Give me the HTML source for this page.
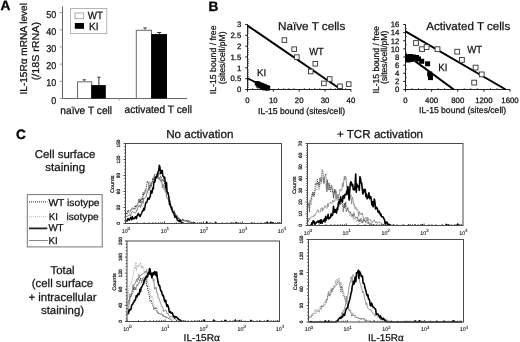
<!DOCTYPE html>
<html><head><meta charset="utf-8"><style>
html,body{margin:0;padding:0;background:#fff;}
svg{display:block;will-change:transform;}
</style></head><body>
<svg width="520" height="342" viewBox="0 0 520 342" font-family="'Liberation Sans', sans-serif" text-rendering="geometricPrecision">
<rect width="520" height="342" fill="#fff"/>
<text x="0.60" y="10.40" font-size="13.6" font-weight="bold" fill="#000" stroke="#000" stroke-width="0.35" >A</text>
<text x="26.90" y="48.80" font-size="10" text-anchor="middle" textLength="91.4" lengthAdjust="spacingAndGlyphs" fill="#111" transform="rotate(-90 26.90 48.80)" stroke="#111" stroke-width="0.25" >IL-15R&#945; mRNA level</text>
<text x="38.90" y="51.10" font-size="10" text-anchor="middle" textLength="58.4" lengthAdjust="spacingAndGlyphs" fill="#111" transform="rotate(-90 38.90 51.10)" stroke="#111" stroke-width="0.25" >(/18S rRNA)</text>
<line x1="62.50" y1="6.30" x2="62.50" y2="98.50" stroke="#666" stroke-width="1" />
<line x1="62.00" y1="98.50" x2="187.20" y2="98.50" stroke="#666" stroke-width="1" />
<line x1="59.70" y1="98.50" x2="62.50" y2="98.50" stroke="#999" stroke-width="1" />
<text x="56.30" y="103.60" font-size="9.9" text-anchor="end" textLength="5.0" lengthAdjust="spacingAndGlyphs" fill="#111" stroke="#111" stroke-width="0.25" >0</text>
<line x1="59.70" y1="81.32" x2="62.50" y2="81.32" stroke="#999" stroke-width="1" />
<text x="56.30" y="86.42" font-size="9.9" text-anchor="end" textLength="10.0" lengthAdjust="spacingAndGlyphs" fill="#111" stroke="#111" stroke-width="0.25" >10</text>
<line x1="59.70" y1="64.14" x2="62.50" y2="64.14" stroke="#999" stroke-width="1" />
<text x="56.30" y="69.24" font-size="9.9" text-anchor="end" textLength="10.0" lengthAdjust="spacingAndGlyphs" fill="#111" stroke="#111" stroke-width="0.25" >20</text>
<line x1="59.70" y1="46.96" x2="62.50" y2="46.96" stroke="#999" stroke-width="1" />
<text x="56.30" y="52.06" font-size="9.9" text-anchor="end" textLength="10.0" lengthAdjust="spacingAndGlyphs" fill="#111" stroke="#111" stroke-width="0.25" >30</text>
<line x1="59.70" y1="29.78" x2="62.50" y2="29.78" stroke="#999" stroke-width="1" />
<text x="56.30" y="34.88" font-size="9.9" text-anchor="end" textLength="10.0" lengthAdjust="spacingAndGlyphs" fill="#111" stroke="#111" stroke-width="0.25" >40</text>
<line x1="59.70" y1="12.60" x2="62.50" y2="12.60" stroke="#999" stroke-width="1" />
<text x="56.30" y="17.70" font-size="9.9" text-anchor="end" textLength="10.0" lengthAdjust="spacingAndGlyphs" fill="#111" stroke="#111" stroke-width="0.25" >50</text>
<line x1="119.20" y1="98.50" x2="119.20" y2="100.50" stroke="#aaa" stroke-width="1" />
<line x1="84.30" y1="79.77" x2="84.30" y2="81.32" stroke="#444" stroke-width="1" />
<line x1="82.60" y1="79.77" x2="86.00" y2="79.77" stroke="#444" stroke-width="1" />
<line x1="98.90" y1="77.20" x2="98.90" y2="85.10" stroke="#333" stroke-width="1" />
<line x1="97.30" y1="77.20" x2="100.50" y2="77.20" stroke="#333" stroke-width="1" />
<line x1="145.00" y1="27.89" x2="145.00" y2="29.78" stroke="#444" stroke-width="1" />
<line x1="143.30" y1="27.89" x2="146.70" y2="27.89" stroke="#444" stroke-width="1" />
<line x1="159.30" y1="32.53" x2="159.30" y2="34.25" stroke="#333" stroke-width="1" />
<line x1="157.10" y1="32.53" x2="161.40" y2="32.53" stroke="#333" stroke-width="1" />
<rect x="77.50" y="81.82" width="14.20" height="16.68" fill="#fff" stroke="#6a6a6a" stroke-width="1" />
<rect x="91.20" y="85.10" width="14.60" height="13.40" fill="#000" stroke="none" stroke-width="1" />
<rect x="136.30" y="30.28" width="15.20" height="68.22" fill="#fff" stroke="#6a6a6a" stroke-width="1" />
<rect x="151.20" y="34.08" width="15.80" height="64.42" fill="#000" stroke="none" stroke-width="1" />
<rect x="70.50" y="8.50" width="36.30" height="25.00" fill="none" stroke="#b5b5b5" stroke-width="1" />
<rect x="75.00" y="13.00" width="8.60" height="5.60" fill="#fff" stroke="#aaa" stroke-width="1" />
<rect x="74.80" y="23.00" width="9.20" height="5.80" fill="#000" stroke="none" stroke-width="1" />
<text x="87.80" y="19.20" font-size="10.5" textLength="15.2" lengthAdjust="spacingAndGlyphs" fill="#111" stroke="#111" stroke-width="0.25" >WT</text>
<text x="89.00" y="29.50" font-size="10.4" textLength="9.6" lengthAdjust="spacingAndGlyphs" fill="#111" stroke="#111" stroke-width="0.25" >KI</text>
<text x="60.30" y="113.50" font-size="10.6" textLength="51.8" lengthAdjust="spacingAndGlyphs" fill="#111" stroke="#111" stroke-width="0.25" >na&#239;ve T cell</text>
<text x="124.50" y="113.00" font-size="10.6" textLength="67.4" lengthAdjust="spacingAndGlyphs" fill="#111" stroke="#111" stroke-width="0.25" >activated T cell</text>
<text x="208.60" y="10.50" font-size="13.6" font-weight="bold" fill="#000" stroke="#000" stroke-width="0.35" >B</text>
<line x1="247.50" y1="24.10" x2="247.50" y2="90.00" stroke="#222" stroke-width="1" />
<line x1="247.50" y1="89.50" x2="351.20" y2="89.50" stroke="#222" stroke-width="1" />
<line x1="245.20" y1="89.50" x2="247.50" y2="89.50" stroke="#222" stroke-width="1" />
<text x="241.30" y="92.30" font-size="7.8" text-anchor="end" fill="#111" stroke="#111" stroke-width="0.25" >0</text>
<line x1="245.20" y1="78.67" x2="247.50" y2="78.67" stroke="#222" stroke-width="1" />
<text x="241.30" y="81.47" font-size="7.8" text-anchor="end" fill="#111" stroke="#111" stroke-width="0.25" >0.5</text>
<line x1="245.20" y1="67.83" x2="247.50" y2="67.83" stroke="#222" stroke-width="1" />
<text x="241.30" y="70.63" font-size="7.8" text-anchor="end" fill="#111" stroke="#111" stroke-width="0.25" >1</text>
<line x1="245.20" y1="57.00" x2="247.50" y2="57.00" stroke="#222" stroke-width="1" />
<text x="241.30" y="59.80" font-size="7.8" text-anchor="end" fill="#111" stroke="#111" stroke-width="0.25" >1.5</text>
<line x1="245.20" y1="46.17" x2="247.50" y2="46.17" stroke="#222" stroke-width="1" />
<text x="241.30" y="48.97" font-size="7.8" text-anchor="end" fill="#111" stroke="#111" stroke-width="0.25" >2</text>
<line x1="245.20" y1="35.33" x2="247.50" y2="35.33" stroke="#222" stroke-width="1" />
<text x="241.30" y="38.13" font-size="7.8" text-anchor="end" fill="#111" stroke="#111" stroke-width="0.25" >2.5</text>
<line x1="245.20" y1="24.50" x2="247.50" y2="24.50" stroke="#222" stroke-width="1" />
<text x="241.30" y="27.30" font-size="7.8" text-anchor="end" fill="#111" stroke="#111" stroke-width="0.25" >3</text>
<line x1="247.50" y1="87.33" x2="249.00" y2="87.33" stroke="#444" stroke-width="0.8" />
<line x1="247.50" y1="85.17" x2="249.00" y2="85.17" stroke="#444" stroke-width="0.8" />
<line x1="247.50" y1="83.00" x2="249.00" y2="83.00" stroke="#444" stroke-width="0.8" />
<line x1="247.50" y1="80.83" x2="249.00" y2="80.83" stroke="#444" stroke-width="0.8" />
<line x1="247.50" y1="76.50" x2="249.00" y2="76.50" stroke="#444" stroke-width="0.8" />
<line x1="247.50" y1="74.33" x2="249.00" y2="74.33" stroke="#444" stroke-width="0.8" />
<line x1="247.50" y1="72.17" x2="249.00" y2="72.17" stroke="#444" stroke-width="0.8" />
<line x1="247.50" y1="70.00" x2="249.00" y2="70.00" stroke="#444" stroke-width="0.8" />
<line x1="247.50" y1="65.67" x2="249.00" y2="65.67" stroke="#444" stroke-width="0.8" />
<line x1="247.50" y1="63.50" x2="249.00" y2="63.50" stroke="#444" stroke-width="0.8" />
<line x1="247.50" y1="61.33" x2="249.00" y2="61.33" stroke="#444" stroke-width="0.8" />
<line x1="247.50" y1="59.17" x2="249.00" y2="59.17" stroke="#444" stroke-width="0.8" />
<line x1="247.50" y1="54.83" x2="249.00" y2="54.83" stroke="#444" stroke-width="0.8" />
<line x1="247.50" y1="52.67" x2="249.00" y2="52.67" stroke="#444" stroke-width="0.8" />
<line x1="247.50" y1="50.50" x2="249.00" y2="50.50" stroke="#444" stroke-width="0.8" />
<line x1="247.50" y1="48.33" x2="249.00" y2="48.33" stroke="#444" stroke-width="0.8" />
<line x1="247.50" y1="44.00" x2="249.00" y2="44.00" stroke="#444" stroke-width="0.8" />
<line x1="247.50" y1="41.83" x2="249.00" y2="41.83" stroke="#444" stroke-width="0.8" />
<line x1="247.50" y1="39.67" x2="249.00" y2="39.67" stroke="#444" stroke-width="0.8" />
<line x1="247.50" y1="37.50" x2="249.00" y2="37.50" stroke="#444" stroke-width="0.8" />
<line x1="247.50" y1="33.17" x2="249.00" y2="33.17" stroke="#444" stroke-width="0.8" />
<line x1="247.50" y1="31.00" x2="249.00" y2="31.00" stroke="#444" stroke-width="0.8" />
<line x1="247.50" y1="28.83" x2="249.00" y2="28.83" stroke="#444" stroke-width="0.8" />
<line x1="247.50" y1="26.67" x2="249.00" y2="26.67" stroke="#444" stroke-width="0.8" />
<line x1="247.50" y1="89.50" x2="247.50" y2="91.70" stroke="#222" stroke-width="1" />
<text x="247.50" y="102.50" font-size="7.8" text-anchor="middle" fill="#111" stroke="#111" stroke-width="0.25" >0</text>
<line x1="273.35" y1="89.50" x2="273.35" y2="91.70" stroke="#222" stroke-width="1" />
<text x="273.35" y="102.50" font-size="7.8" text-anchor="middle" fill="#111" stroke="#111" stroke-width="0.25" >10</text>
<line x1="299.20" y1="89.50" x2="299.20" y2="91.70" stroke="#222" stroke-width="1" />
<text x="299.20" y="102.50" font-size="7.8" text-anchor="middle" fill="#111" stroke="#111" stroke-width="0.25" >20</text>
<line x1="325.05" y1="89.50" x2="325.05" y2="91.70" stroke="#222" stroke-width="1" />
<text x="325.05" y="102.50" font-size="7.8" text-anchor="middle" fill="#111" stroke="#111" stroke-width="0.25" >30</text>
<line x1="350.90" y1="89.50" x2="350.90" y2="91.70" stroke="#222" stroke-width="1" />
<text x="350.90" y="102.50" font-size="7.8" text-anchor="middle" fill="#111" stroke="#111" stroke-width="0.25" >40</text>
<line x1="252.67" y1="88.00" x2="252.67" y2="89.50" stroke="#444" stroke-width="0.8" />
<line x1="257.84" y1="88.00" x2="257.84" y2="89.50" stroke="#444" stroke-width="0.8" />
<line x1="263.01" y1="88.00" x2="263.01" y2="89.50" stroke="#444" stroke-width="0.8" />
<line x1="268.18" y1="88.00" x2="268.18" y2="89.50" stroke="#444" stroke-width="0.8" />
<line x1="278.52" y1="88.00" x2="278.52" y2="89.50" stroke="#444" stroke-width="0.8" />
<line x1="283.69" y1="88.00" x2="283.69" y2="89.50" stroke="#444" stroke-width="0.8" />
<line x1="288.86" y1="88.00" x2="288.86" y2="89.50" stroke="#444" stroke-width="0.8" />
<line x1="294.03" y1="88.00" x2="294.03" y2="89.50" stroke="#444" stroke-width="0.8" />
<line x1="304.37" y1="88.00" x2="304.37" y2="89.50" stroke="#444" stroke-width="0.8" />
<line x1="309.54" y1="88.00" x2="309.54" y2="89.50" stroke="#444" stroke-width="0.8" />
<line x1="314.71" y1="88.00" x2="314.71" y2="89.50" stroke="#444" stroke-width="0.8" />
<line x1="319.88" y1="88.00" x2="319.88" y2="89.50" stroke="#444" stroke-width="0.8" />
<line x1="330.22" y1="88.00" x2="330.22" y2="89.50" stroke="#444" stroke-width="0.8" />
<line x1="335.39" y1="88.00" x2="335.39" y2="89.50" stroke="#444" stroke-width="0.8" />
<line x1="340.56" y1="88.00" x2="340.56" y2="89.50" stroke="#444" stroke-width="0.8" />
<line x1="345.73" y1="88.00" x2="345.73" y2="89.50" stroke="#444" stroke-width="0.8" />
<text x="216.20" y="59.85" font-size="8.7" text-anchor="middle" textLength="68.7" lengthAdjust="spacingAndGlyphs" fill="#111" transform="rotate(-90 216.20 59.85)" stroke="#111" stroke-width="0.25" >IL-15 bound / free</text>
<text x="225.00" y="57.80" font-size="8.7" text-anchor="middle" textLength="52.8" lengthAdjust="spacingAndGlyphs" fill="#111" transform="rotate(-90 225.00 57.80)" stroke="#111" stroke-width="0.25" >(sites/cell/pM)</text>
<text x="258.00" y="113.50" font-size="8.7" textLength="87.1" lengthAdjust="spacingAndGlyphs" fill="#111" stroke="#111" stroke-width="0.25" >IL-15 bound (sites/cell)</text>
<text x="278.00" y="29.80" font-size="11.4" textLength="67.3" lengthAdjust="spacingAndGlyphs" fill="#111" stroke="#111" stroke-width="0.25" >Na&#239;ve T cells</text>
<text x="309.20" y="55.00" font-size="10.2" textLength="14.4" lengthAdjust="spacingAndGlyphs" fill="#111" stroke="#111" stroke-width="0.25" >WT</text>
<text x="256.90" y="76.20" font-size="9.8" textLength="9.2" lengthAdjust="spacingAndGlyphs" fill="#111" stroke="#111" stroke-width="0.25" >KI</text>
<line x1="247.50" y1="25.60" x2="341.00" y2="89.50" stroke="#000" stroke-width="2" />
<line x1="247.50" y1="78.30" x2="270.00" y2="89.30" stroke="#000" stroke-width="1.8" />
<rect x="282.10" y="37.80" width="4.60" height="4.60" fill="#fff" stroke="#333" stroke-width="0.9" />
<rect x="291.90" y="46.90" width="4.60" height="4.60" fill="#fff" stroke="#333" stroke-width="0.9" />
<rect x="294.50" y="54.80" width="4.60" height="4.60" fill="#fff" stroke="#333" stroke-width="0.9" />
<rect x="313.00" y="61.50" width="4.60" height="4.60" fill="#fff" stroke="#333" stroke-width="0.9" />
<rect x="308.40" y="69.20" width="4.60" height="4.60" fill="#fff" stroke="#333" stroke-width="0.9" />
<rect x="327.40" y="76.70" width="4.60" height="4.60" fill="#fff" stroke="#333" stroke-width="0.9" />
<rect x="321.60" y="81.10" width="4.60" height="4.60" fill="#fff" stroke="#333" stroke-width="0.9" />
<rect x="337.70" y="84.00" width="4.60" height="4.60" fill="#fff" stroke="#333" stroke-width="0.9" />
<rect x="346.40" y="81.80" width="4.60" height="4.60" fill="#fff" stroke="#333" stroke-width="0.9" />
<rect x="254.80" y="81.10" width="4.40" height="4.40" fill="#000" stroke="none" stroke-width="1" />
<rect x="255.80" y="81.40" width="4.40" height="4.40" fill="#000" stroke="none" stroke-width="1" />
<rect x="257.30" y="82.10" width="4.40" height="4.40" fill="#000" stroke="none" stroke-width="1" />
<rect x="259.30" y="82.80" width="4.40" height="4.40" fill="#000" stroke="none" stroke-width="1" />
<rect x="261.10" y="83.60" width="4.40" height="4.40" fill="#000" stroke="none" stroke-width="1" />
<rect x="262.80" y="84.30" width="4.40" height="4.40" fill="#000" stroke="none" stroke-width="1" />
<rect x="264.30" y="85.10" width="4.40" height="4.40" fill="#000" stroke="none" stroke-width="1" />
<rect x="265.80" y="85.60" width="4.40" height="4.40" fill="#000" stroke="none" stroke-width="1" />
<rect x="259.80" y="85.30" width="4.40" height="4.40" fill="#000" stroke="none" stroke-width="1" />
<rect x="262.30" y="86.00" width="4.40" height="4.40" fill="#000" stroke="none" stroke-width="1" />
<rect x="265.30" y="86.30" width="4.40" height="4.40" fill="#000" stroke="none" stroke-width="1" />
<rect x="258.30" y="83.80" width="4.40" height="4.40" fill="#000" stroke="none" stroke-width="1" />
<rect x="256.30" y="83.30" width="4.40" height="4.40" fill="#000" stroke="none" stroke-width="1" />
<line x1="405.50" y1="24.30" x2="405.50" y2="90.00" stroke="#222" stroke-width="1" />
<line x1="405.50" y1="89.50" x2="510.20" y2="89.50" stroke="#222" stroke-width="1" />
<line x1="403.20" y1="89.50" x2="405.50" y2="89.50" stroke="#222" stroke-width="1" />
<text x="399.40" y="92.30" font-size="7.8" text-anchor="end" fill="#111" stroke="#111" stroke-width="0.25" >0</text>
<line x1="403.20" y1="81.38" x2="405.50" y2="81.38" stroke="#222" stroke-width="1" />
<text x="399.40" y="84.17" font-size="7.8" text-anchor="end" fill="#111" stroke="#111" stroke-width="0.25" >2</text>
<line x1="403.20" y1="73.25" x2="405.50" y2="73.25" stroke="#222" stroke-width="1" />
<text x="399.40" y="76.05" font-size="7.8" text-anchor="end" fill="#111" stroke="#111" stroke-width="0.25" >4</text>
<line x1="403.20" y1="65.12" x2="405.50" y2="65.12" stroke="#222" stroke-width="1" />
<text x="399.40" y="67.92" font-size="7.8" text-anchor="end" fill="#111" stroke="#111" stroke-width="0.25" >6</text>
<line x1="403.20" y1="57.00" x2="405.50" y2="57.00" stroke="#222" stroke-width="1" />
<text x="399.40" y="59.80" font-size="7.8" text-anchor="end" fill="#111" stroke="#111" stroke-width="0.25" >8</text>
<line x1="403.20" y1="48.88" x2="405.50" y2="48.88" stroke="#222" stroke-width="1" />
<text x="399.40" y="51.67" font-size="7.8" text-anchor="end" fill="#111" stroke="#111" stroke-width="0.25" >10</text>
<line x1="403.20" y1="40.75" x2="405.50" y2="40.75" stroke="#222" stroke-width="1" />
<text x="399.40" y="43.55" font-size="7.8" text-anchor="end" fill="#111" stroke="#111" stroke-width="0.25" >12</text>
<line x1="403.20" y1="32.62" x2="405.50" y2="32.62" stroke="#222" stroke-width="1" />
<text x="399.40" y="35.42" font-size="7.8" text-anchor="end" fill="#111" stroke="#111" stroke-width="0.25" >14</text>
<line x1="403.20" y1="24.50" x2="405.50" y2="24.50" stroke="#222" stroke-width="1" />
<text x="399.40" y="27.30" font-size="7.8" text-anchor="end" fill="#111" stroke="#111" stroke-width="0.25" >16</text>
<line x1="405.50" y1="85.44" x2="407.00" y2="85.44" stroke="#444" stroke-width="0.8" />
<line x1="405.50" y1="77.31" x2="407.00" y2="77.31" stroke="#444" stroke-width="0.8" />
<line x1="405.50" y1="69.19" x2="407.00" y2="69.19" stroke="#444" stroke-width="0.8" />
<line x1="405.50" y1="61.06" x2="407.00" y2="61.06" stroke="#444" stroke-width="0.8" />
<line x1="405.50" y1="52.94" x2="407.00" y2="52.94" stroke="#444" stroke-width="0.8" />
<line x1="405.50" y1="44.81" x2="407.00" y2="44.81" stroke="#444" stroke-width="0.8" />
<line x1="405.50" y1="36.69" x2="407.00" y2="36.69" stroke="#444" stroke-width="0.8" />
<line x1="405.50" y1="28.56" x2="407.00" y2="28.56" stroke="#444" stroke-width="0.8" />
<line x1="405.50" y1="89.50" x2="405.50" y2="91.70" stroke="#222" stroke-width="1" />
<text x="405.50" y="102.50" font-size="7.8" text-anchor="middle" fill="#111" stroke="#111" stroke-width="0.25" >0</text>
<line x1="431.62" y1="89.50" x2="431.62" y2="91.70" stroke="#222" stroke-width="1" />
<text x="431.62" y="102.50" font-size="7.8" text-anchor="middle" fill="#111" stroke="#111" stroke-width="0.25" >400</text>
<line x1="457.75" y1="89.50" x2="457.75" y2="91.70" stroke="#222" stroke-width="1" />
<text x="457.75" y="102.50" font-size="7.8" text-anchor="middle" fill="#111" stroke="#111" stroke-width="0.25" >800</text>
<line x1="483.88" y1="89.50" x2="483.88" y2="91.70" stroke="#222" stroke-width="1" />
<text x="483.88" y="102.50" font-size="7.8" text-anchor="middle" fill="#111" stroke="#111" stroke-width="0.25" >1200</text>
<line x1="510.00" y1="89.50" x2="510.00" y2="91.70" stroke="#222" stroke-width="1" />
<text x="510.00" y="102.50" font-size="7.8" text-anchor="middle" fill="#111" stroke="#111" stroke-width="0.25" >1600</text>
<line x1="412.03" y1="88.00" x2="412.03" y2="89.50" stroke="#444" stroke-width="0.8" />
<line x1="418.56" y1="88.00" x2="418.56" y2="89.50" stroke="#444" stroke-width="0.8" />
<line x1="425.09" y1="88.00" x2="425.09" y2="89.50" stroke="#444" stroke-width="0.8" />
<line x1="438.16" y1="88.00" x2="438.16" y2="89.50" stroke="#444" stroke-width="0.8" />
<line x1="444.69" y1="88.00" x2="444.69" y2="89.50" stroke="#444" stroke-width="0.8" />
<line x1="451.22" y1="88.00" x2="451.22" y2="89.50" stroke="#444" stroke-width="0.8" />
<line x1="464.28" y1="88.00" x2="464.28" y2="89.50" stroke="#444" stroke-width="0.8" />
<line x1="470.81" y1="88.00" x2="470.81" y2="89.50" stroke="#444" stroke-width="0.8" />
<line x1="477.34" y1="88.00" x2="477.34" y2="89.50" stroke="#444" stroke-width="0.8" />
<line x1="490.41" y1="88.00" x2="490.41" y2="89.50" stroke="#444" stroke-width="0.8" />
<line x1="496.94" y1="88.00" x2="496.94" y2="89.50" stroke="#444" stroke-width="0.8" />
<line x1="503.47" y1="88.00" x2="503.47" y2="89.50" stroke="#444" stroke-width="0.8" />
<text x="378.70" y="59.75" font-size="8.7" text-anchor="middle" textLength="67.3" lengthAdjust="spacingAndGlyphs" fill="#111" transform="rotate(-90 378.70 59.75)" stroke="#111" stroke-width="0.25" >IL-15 bound / free</text>
<text x="387.20" y="57.25" font-size="8.7" text-anchor="middle" textLength="53.5" lengthAdjust="spacingAndGlyphs" fill="#111" transform="rotate(-90 387.20 57.25)" stroke="#111" stroke-width="0.25" >(sites/cell/pM)</text>
<text x="419.10" y="113.30" font-size="8.7" textLength="87.0" lengthAdjust="spacingAndGlyphs" fill="#111" stroke="#111" stroke-width="0.25" >IL-15 bound (sites/cell)</text>
<text x="426.20" y="30.10" font-size="11.4" textLength="84.0" lengthAdjust="spacingAndGlyphs" fill="#111" stroke="#111" stroke-width="0.25" >Activated T cells</text>
<text x="467.20" y="52.70" font-size="10.2" textLength="15.0" lengthAdjust="spacingAndGlyphs" fill="#111" stroke="#111" stroke-width="0.25" >WT</text>
<text x="438.30" y="71.20" font-size="10.4" textLength="9.2" lengthAdjust="spacingAndGlyphs" fill="#111" stroke="#111" stroke-width="0.25" >KI</text>
<line x1="405.50" y1="31.40" x2="505.70" y2="89.50" stroke="#000" stroke-width="2" />
<line x1="405.50" y1="54.10" x2="453.80" y2="89.50" stroke="#000" stroke-width="2" />
<rect x="413.60" y="40.60" width="4.80" height="4.80" fill="#fff" stroke="#333" stroke-width="0.9" />
<rect x="419.70" y="46.80" width="4.80" height="4.80" fill="#fff" stroke="#333" stroke-width="0.9" />
<rect x="424.20" y="44.70" width="4.80" height="4.80" fill="#fff" stroke="#333" stroke-width="0.9" />
<rect x="435.10" y="46.80" width="4.80" height="4.80" fill="#fff" stroke="#333" stroke-width="0.9" />
<rect x="454.80" y="49.30" width="4.80" height="4.80" fill="#fff" stroke="#333" stroke-width="0.9" />
<rect x="459.50" y="57.50" width="4.80" height="4.80" fill="#fff" stroke="#333" stroke-width="0.9" />
<rect x="473.20" y="65.20" width="4.80" height="4.80" fill="#fff" stroke="#333" stroke-width="0.9" />
<rect x="479.30" y="72.00" width="4.80" height="4.80" fill="#fff" stroke="#333" stroke-width="0.9" />
<rect x="471.80" y="80.20" width="4.80" height="4.80" fill="#fff" stroke="#333" stroke-width="0.9" />
<rect x="405.00" y="55.00" width="5.00" height="5.00" fill="#000" stroke="none" stroke-width="1" />
<rect x="408.00" y="54.00" width="5.00" height="5.00" fill="#000" stroke="none" stroke-width="1" />
<rect x="411.00" y="54.50" width="5.00" height="5.00" fill="#000" stroke="none" stroke-width="1" />
<rect x="414.00" y="55.00" width="5.00" height="5.00" fill="#000" stroke="none" stroke-width="1" />
<rect x="405.50" y="57.50" width="5.00" height="5.00" fill="#000" stroke="none" stroke-width="1" />
<rect x="416.00" y="56.50" width="5.00" height="5.00" fill="#000" stroke="none" stroke-width="1" />
<rect x="419.20" y="58.80" width="5.00" height="5.00" fill="#000" stroke="none" stroke-width="1" />
<rect x="425.10" y="61.30" width="5.00" height="5.00" fill="#000" stroke="none" stroke-width="1" />
<rect x="427.20" y="71.50" width="5.00" height="5.00" fill="#000" stroke="none" stroke-width="1" />
<rect x="428.00" y="75.10" width="5.00" height="5.00" fill="#000" stroke="none" stroke-width="1" />
<rect x="408.50" y="57.00" width="5.00" height="5.00" fill="#000" stroke="none" stroke-width="1" />
<text x="15.90" y="138.50" font-size="13.6" font-weight="bold" fill="#000" stroke="#000" stroke-width="0.35" >C</text>
<text x="65.00" y="157.50" font-size="11.3" text-anchor="middle" textLength="60.6" lengthAdjust="spacingAndGlyphs" fill="#111" stroke="#111" stroke-width="0.25" >Cell surface</text>
<text x="65.20" y="170.80" font-size="11.3" text-anchor="middle" textLength="39.8" lengthAdjust="spacingAndGlyphs" fill="#111" stroke="#111" stroke-width="0.25" >staining</text>
<rect x="27.30" y="194.60" width="74.90" height="52.30" fill="none" stroke="#777" stroke-width="1" />
<line x1="29.00" y1="201.90" x2="47.30" y2="201.90" stroke="#222" stroke-width="1" stroke-dasharray="1 1"/>
<line x1="29.00" y1="216.70" x2="47.30" y2="216.70" stroke="#bbb" stroke-width="1" stroke-dasharray="1 1"/>
<line x1="29.00" y1="228.40" x2="47.30" y2="228.40" stroke="#222" stroke-width="1.8" />
<line x1="29.00" y1="240.50" x2="47.80" y2="240.50" stroke="#888" stroke-width="1" />
<text x="48.40" y="205.50" font-size="10" textLength="51.2" lengthAdjust="spacingAndGlyphs" fill="#111" stroke="#111" stroke-width="0.25" >WT isotype</text>
<text x="48.80" y="219.90" font-size="10" textLength="9.2" lengthAdjust="spacingAndGlyphs" fill="#111" stroke="#111" stroke-width="0.25" >KI</text>
<text x="66.50" y="219.90" font-size="10" textLength="32.2" lengthAdjust="spacingAndGlyphs" fill="#111" stroke="#111" stroke-width="0.25" >isotype</text>
<text x="48.40" y="231.40" font-size="10" textLength="15.2" lengthAdjust="spacingAndGlyphs" fill="#111" stroke="#111" stroke-width="0.25" >WT</text>
<text x="48.40" y="243.90" font-size="10" textLength="9.2" lengthAdjust="spacingAndGlyphs" fill="#111" stroke="#111" stroke-width="0.25" >KI</text>
<text x="62.50" y="273.60" font-size="11.4" text-anchor="middle" fill="#111" stroke="#111" stroke-width="0.25" >Total</text>
<text x="62.50" y="287.00" font-size="11.4" text-anchor="middle" fill="#111" stroke="#111" stroke-width="0.25" >(cell surface</text>
<text x="62.50" y="300.90" font-size="11.4" text-anchor="middle" fill="#111" stroke="#111" stroke-width="0.25" >+ intracellular</text>
<text x="62.50" y="314.20" font-size="11.4" text-anchor="middle" fill="#111" stroke="#111" stroke-width="0.25" >staining)</text>
<text x="166.20" y="138.20" font-size="11.5" textLength="67.2" lengthAdjust="spacingAndGlyphs" fill="#111" stroke="#111" stroke-width="0.25" >No activation</text>
<text x="336.90" y="137.70" font-size="11.5" textLength="86.2" lengthAdjust="spacingAndGlyphs" fill="#111" stroke="#111" stroke-width="0.25" >+ TCR activation</text>
<text x="183.60" y="340.60" font-size="9.8" textLength="36.4" lengthAdjust="spacingAndGlyphs" fill="#111" stroke="#111" stroke-width="0.25" >IL-15R&#945;</text>
<text x="368.10" y="340.60" font-size="9.8" textLength="35.6" lengthAdjust="spacingAndGlyphs" fill="#111" stroke="#111" stroke-width="0.25" >IL-15R&#945;</text>
<defs><clipPath id="c0"><rect x="125.5" y="143.5" width="156.0" height="80.5"/></clipPath><clipPath id="c1"><rect x="307.5" y="143.5" width="155.5" height="82.5"/></clipPath><clipPath id="c2"><rect x="127.0" y="241.0" width="152.5" height="81.0"/></clipPath><clipPath id="c3"><rect x="308.5" y="239.5" width="155.0" height="83.0"/></clipPath></defs>
<path d="M126.3,212.8 L126.9,214.2 L127.5,214.3 L128.1,212.0 L128.7,210.3 L129.3,211.2 L129.9,211.6 L130.5,212.2 L131.1,209.1 L131.7,208.4 L132.3,210.1 L132.9,209.1 L133.5,209.8 L134.1,208.6 L134.7,206.9 L135.3,206.6 L135.9,210.0 L136.5,205.4 L137.1,203.6 L137.7,202.0 L138.3,202.7 L138.9,201.9 L139.5,200.6 L140.1,200.9 L140.7,201.0 L141.3,200.8 L141.9,200.3 L142.5,197.4 L143.1,192.4 L143.7,195.5 L144.3,190.8 L144.9,192.7 L145.5,190.1 L146.1,192.0 L146.7,189.2 L147.3,189.5 L147.9,193.9 L148.5,185.8 L149.1,186.4 L149.7,181.3 L150.3,183.3 L150.9,184.7 L151.5,182.0 L152.1,181.6 L152.7,179.7 L153.3,176.2 L153.9,179.3 L154.5,176.1 L155.1,181.7 L155.7,175.9 L156.3,178.1 L156.9,176.1 L157.5,178.2 L158.1,174.9 L158.7,179.2 L159.3,177.4 L159.9,180.8 L160.5,179.7 L161.1,179.9 L161.7,179.8 L162.3,185.1 L162.9,186.4 L163.5,189.9 L164.1,186.3 L164.7,189.0 L165.3,190.8 L165.9,193.0 L166.5,195.7 L167.1,197.9 L167.7,197.9 L168.3,197.5 L168.9,199.6 L169.5,203.0 L170.1,206.6 L170.7,207.9 L171.3,209.6 L171.9,210.0 L172.5,210.1 L173.1,210.4 L173.7,212.6 L174.3,215.2 L174.9,214.5 L175.5,215.1 L176.1,217.8 L176.7,216.4 L177.3,217.5 L177.9,218.1 L178.5,217.4 L179.1,220.8 L179.7,220.9 L180.3,220.4 L180.9,220.9 L181.5,220.6 L182.1,220.0 L182.7,221.2 L183.3,221.0 L183.9,220.3 L184.5,221.2 L185.1,219.9 L185.7,220.5 L186.3,221.9 L186.9,220.7 L187.5,221.3 L188.1,220.4 L188.7,222.1 L189.3,221.4 L189.9,223.0 L190.5,222.4 L191.1,222.3 L191.7,223.1 L192.3,222.9 L192.9,223.2 L193.5,222.5 L194.1,222.9 L194.7,222.4 L195.3,223.3 L195.9,223.5 L196.5,223.5 L197.1,223.6 L197.7,223.7 L198.3,223.7 L198.9,223.7 L199.5,223.8 L200.1,223.8 L200.7,223.8 L201.3,223.8 L201.9,223.8 L202.5,223.8 L203.1,223.7 L203.7,223.8 L204.3,223.8 L204.9,223.7 L205.5,223.8 L206.1,223.7 L206.7,223.8 L207.3,223.7 L207.9,223.8 L208.5,223.8 L209.1,223.7 L209.7,223.7 L210.3,223.7 L210.9,223.8 L211.5,223.8 L212.1,222.5 L212.7,223.8 L213.3,223.8 L213.9,223.7 L214.5,222.8 L215.1,223.8 L215.7,223.8 L216.3,223.8 L216.9,223.8 L217.5,223.8 L218.1,223.8 L218.7,223.8 L219.3,223.8 L219.9,223.8 L220.5,223.8 L221.1,223.8 L221.7,223.7 L222.3,223.8 L222.9,223.8 L223.5,223.7 L224.1,223.8 L224.7,223.8 L225.3,223.7 L225.9,222.4 L226.5,223.8 L227.1,223.0 L227.7,223.8 L228.3,223.8 L228.9,223.8 L229.5,223.8 L230.1,223.8 L230.7,223.8 L231.3,223.7 L231.9,223.8 L232.5,222.7 L233.1,223.8 L233.7,223.8 L234.3,223.8 L234.9,223.7 L235.5,223.7 L236.1,223.8 L236.7,223.8 L237.3,223.8 L237.9,223.7 L238.5,223.7 L239.1,223.8 L239.7,223.7 L240.3,223.8 L240.9,223.8 L241.5,223.8 L242.1,223.7 L242.7,223.8 L243.3,223.8 L243.9,223.8 L244.5,223.8 L245.1,223.8 L245.7,223.8 L246.3,223.8 L246.9,223.8 L247.5,223.8 L248.1,223.8 L248.7,223.8 L249.3,223.8 L249.9,223.8 L250.5,223.7 L251.1,223.8 L251.7,223.8 L252.3,223.8 L252.9,223.8 L253.5,223.8 L254.1,223.8 L254.7,223.8 L255.3,223.7 L255.9,223.8 L256.5,223.8 L257.1,223.7 L257.7,222.0 L258.3,223.8 L258.9,223.8 L259.5,223.7 L260.1,223.8 L260.7,223.7 L261.3,223.8 L261.9,223.8 L262.5,223.8 L263.1,223.8 L263.7,223.8 L264.3,223.7 L264.9,223.7 L265.5,223.8 L266.1,223.8 L266.7,223.8 L267.3,223.8 L267.9,223.8 L268.5,223.8 L269.1,223.8 L269.7,223.8 L270.3,223.8 L270.9,223.8 L271.5,223.8 L272.1,223.8 L272.7,223.7 L273.3,223.7 L273.9,223.8 L274.5,223.7 L275.1,223.8 L275.7,223.8 L276.3,223.8 L276.9,223.8 L277.5,223.8 L278.1,223.8 L278.7,223.8 L279.3,223.0 L279.9,223.8 L280.5,223.7" fill="none" stroke="#aaa" stroke-width="0.9" stroke-linejoin="round" stroke-dasharray="1.1 0.9" clip-path="url(#c0)"/>
<path d="M126.3,215.8 L126.9,217.0 L127.5,216.2 L128.1,215.4 L128.7,216.1 L129.3,214.8 L129.9,214.2 L130.5,216.2 L131.1,213.6 L131.7,212.3 L132.3,211.5 L132.9,211.7 L133.5,212.5 L134.1,212.3 L134.7,212.4 L135.3,213.1 L135.9,212.6 L136.5,210.6 L137.1,210.5 L137.7,208.5 L138.3,205.8 L138.9,206.9 L139.5,205.3 L140.1,204.8 L140.7,207.6 L141.3,204.9 L141.9,201.8 L142.5,201.0 L143.1,203.4 L143.7,197.9 L144.3,198.7 L144.9,198.2 L145.5,197.7 L146.1,197.0 L146.7,193.6 L147.3,191.9 L147.9,190.6 L148.5,188.5 L149.1,189.5 L149.7,190.3 L150.3,185.2 L150.9,187.4 L151.5,182.9 L152.1,181.9 L152.7,181.3 L153.3,180.9 L153.9,179.2 L154.5,174.2 L155.1,182.5 L155.7,178.1 L156.3,176.5 L156.9,178.9 L157.5,175.8 L158.1,174.2 L158.7,179.2 L159.3,179.7 L159.9,177.3 L160.5,181.3 L161.1,181.3 L161.7,179.8 L162.3,187.7 L162.9,186.3 L163.5,184.5 L164.1,188.0 L164.7,188.2 L165.3,191.6 L165.9,189.6 L166.5,196.6 L167.1,198.4 L167.7,199.1 L168.3,199.3 L168.9,201.6 L169.5,202.6 L170.1,204.2 L170.7,205.3 L171.3,209.7 L171.9,210.3 L172.5,209.7 L173.1,210.5 L173.7,212.6 L174.3,210.7 L174.9,215.1 L175.5,213.5 L176.1,216.3 L176.7,217.2 L177.3,218.4 L177.9,217.1 L178.5,218.6 L179.1,219.1 L179.7,218.4 L180.3,220.8 L180.9,220.5 L181.5,220.6 L182.1,219.4 L182.7,219.4 L183.3,219.5 L183.9,221.2 L184.5,220.8 L185.1,220.6 L185.7,220.7 L186.3,220.8 L186.9,220.9 L187.5,221.6 L188.1,221.8 L188.7,222.2 L189.3,221.6 L189.9,222.1 L190.5,222.5 L191.1,222.2 L191.7,222.3 L192.3,222.7 L192.9,223.1 L193.5,222.5 L194.1,222.7 L194.7,223.0 L195.3,223.4 L195.9,223.4 L196.5,223.5 L197.1,223.6 L197.7,223.7 L198.3,223.8 L198.9,223.7 L199.5,223.8 L200.1,223.8 L200.7,223.8 L201.3,223.8 L201.9,223.8 L202.5,223.8 L203.1,223.8 L203.7,223.8 L204.3,223.8 L204.9,223.8 L205.5,223.8 L206.1,223.7 L206.7,223.8 L207.3,223.8 L207.9,223.8 L208.5,223.8 L209.1,222.7 L209.7,223.8 L210.3,223.8 L210.9,223.8 L211.5,223.7 L212.1,223.8 L212.7,223.7 L213.3,223.7 L213.9,223.8 L214.5,223.7 L215.1,223.8 L215.7,223.8 L216.3,223.8 L216.9,223.8 L217.5,223.8 L218.1,223.8 L218.7,223.8 L219.3,223.8 L219.9,223.8 L220.5,223.8 L221.1,223.8 L221.7,223.8 L222.3,223.8 L222.9,223.8 L223.5,223.8 L224.1,223.7 L224.7,223.8 L225.3,223.8 L225.9,223.8 L226.5,223.8 L227.1,223.8 L227.7,223.8 L228.3,223.8 L228.9,223.8 L229.5,223.8 L230.1,223.8 L230.7,223.8 L231.3,223.7 L231.9,223.0 L232.5,223.8 L233.1,223.8 L233.7,223.8 L234.3,223.8 L234.9,223.8 L235.5,223.8 L236.1,223.7 L236.7,223.8 L237.3,223.7 L237.9,223.7 L238.5,223.8 L239.1,223.7 L239.7,223.8 L240.3,223.7 L240.9,223.8 L241.5,223.8 L242.1,223.8 L242.7,223.8 L243.3,223.7 L243.9,223.2 L244.5,223.8 L245.1,223.8 L245.7,223.8 L246.3,223.8 L246.9,222.9 L247.5,223.8 L248.1,223.8 L248.7,223.8 L249.3,223.8 L249.9,223.8 L250.5,223.8 L251.1,223.8 L251.7,223.7 L252.3,223.8 L252.9,222.9 L253.5,223.7 L254.1,223.8 L254.7,223.8 L255.3,223.8 L255.9,223.8 L256.5,223.8 L257.1,223.8 L257.7,223.8 L258.3,223.8 L258.9,223.8 L259.5,223.8 L260.1,223.8 L260.7,223.8 L261.3,223.8 L261.9,223.8 L262.5,223.8 L263.1,223.8 L263.7,223.8 L264.3,223.8 L264.9,223.8 L265.5,223.8 L266.1,223.8 L266.7,223.8 L267.3,223.8 L267.9,223.8 L268.5,223.8 L269.1,223.8 L269.7,223.8 L270.3,223.8 L270.9,223.8 L271.5,223.8 L272.1,223.8 L272.7,223.8 L273.3,223.8 L273.9,223.8 L274.5,223.8 L275.1,223.8 L275.7,223.7 L276.3,223.8 L276.9,223.7 L277.5,223.8 L278.1,222.1 L278.7,223.8 L279.3,223.8 L279.9,223.8 L280.5,223.8" fill="none" stroke="#777" stroke-width="0.9" stroke-linejoin="round" clip-path="url(#c0)"/>
<path d="M126.3,212.9 L126.9,214.3 L127.5,211.3 L128.1,210.0 L128.7,212.1 L129.3,212.2 L129.9,211.5 L130.5,211.1 L131.1,209.7 L131.7,208.6 L132.3,207.9 L132.9,208.2 L133.5,207.8 L134.1,209.4 L134.7,208.6 L135.3,205.4 L135.9,207.2 L136.5,205.1 L137.1,205.7 L137.7,205.3 L138.3,203.1 L138.9,199.0 L139.5,202.6 L140.1,198.9 L140.7,203.1 L141.3,198.4 L141.9,197.9 L142.5,200.1 L143.1,192.8 L143.7,195.2 L144.3,193.0 L144.9,192.9 L145.5,189.5 L146.1,188.9 L146.7,184.4 L147.3,181.2 L147.9,182.0 L148.5,182.0 L149.1,189.3 L149.7,186.6 L150.3,183.8 L150.9,184.5 L151.5,185.4 L152.1,183.3 L152.7,178.1 L153.3,179.6 L153.9,179.5 L154.5,180.6 L155.1,177.0 L155.7,178.7 L156.3,173.8 L156.9,174.0 L157.5,176.6 L158.1,175.3 L158.7,172.3 L159.3,173.9 L159.9,174.0 L160.5,176.6 L161.1,178.0 L161.7,177.5 L162.3,180.3 L162.9,180.0 L163.5,181.5 L164.1,178.2 L164.7,185.0 L165.3,186.2 L165.9,189.8 L166.5,188.0 L167.1,192.9 L167.7,194.0 L168.3,192.2 L168.9,198.3 L169.5,201.2 L170.1,200.2 L170.7,205.7 L171.3,209.5 L171.9,206.5 L172.5,209.7 L173.1,211.5 L173.7,213.4 L174.3,211.6 L174.9,213.6 L175.5,216.0 L176.1,217.2 L176.7,215.2 L177.3,216.2 L177.9,216.6 L178.5,219.2 L179.1,218.8 L179.7,220.2 L180.3,220.7 L180.9,221.2 L181.5,220.8 L182.1,220.8 L182.7,218.8 L183.3,220.4 L183.9,220.7 L184.5,220.8 L185.1,220.7 L185.7,221.4 L186.3,220.6 L186.9,220.3 L187.5,220.1 L188.1,221.5 L188.7,220.3 L189.3,221.5 L189.9,222.0 L190.5,221.9 L191.1,222.3 L191.7,222.9 L192.3,222.6 L192.9,221.9 L193.5,223.3 L194.1,221.7 L194.7,223.3 L195.3,223.5 L195.9,223.4 L196.5,223.6 L197.1,223.7 L197.7,223.7 L198.3,223.7 L198.9,223.8 L199.5,223.7 L200.1,222.6 L200.7,223.8 L201.3,223.8 L201.9,222.9 L202.5,223.8 L203.1,223.8 L203.7,223.8 L204.3,223.8 L204.9,223.8 L205.5,223.8 L206.1,223.8 L206.7,223.7 L207.3,223.8 L207.9,223.8 L208.5,223.8 L209.1,223.8 L209.7,223.8 L210.3,222.3 L210.9,223.8 L211.5,223.8 L212.1,223.7 L212.7,223.7 L213.3,223.8 L213.9,223.8 L214.5,223.8 L215.1,223.8 L215.7,223.8 L216.3,222.9 L216.9,223.8 L217.5,223.8 L218.1,223.8 L218.7,223.7 L219.3,223.8 L219.9,223.8 L220.5,223.8 L221.1,223.8 L221.7,223.8 L222.3,223.8 L222.9,223.8 L223.5,223.8 L224.1,223.8 L224.7,223.7 L225.3,223.8 L225.9,223.8 L226.5,223.7 L227.1,223.8 L227.7,223.8 L228.3,223.8 L228.9,223.8 L229.5,223.8 L230.1,223.8 L230.7,223.8 L231.3,223.8 L231.9,222.3 L232.5,223.8 L233.1,223.8 L233.7,223.8 L234.3,223.8 L234.9,223.8 L235.5,223.8 L236.1,223.7 L236.7,223.8 L237.3,222.5 L237.9,223.8 L238.5,223.8 L239.1,223.7 L239.7,223.8 L240.3,223.7 L240.9,223.8 L241.5,223.8 L242.1,223.8 L242.7,223.8 L243.3,223.8 L243.9,223.8 L244.5,223.7 L245.1,223.8 L245.7,223.8 L246.3,223.8 L246.9,223.8 L247.5,223.8 L248.1,223.8 L248.7,223.8 L249.3,223.8 L249.9,223.8 L250.5,223.8 L251.1,223.8 L251.7,222.9 L252.3,223.7 L252.9,223.8 L253.5,223.8 L254.1,223.7 L254.7,223.8 L255.3,223.8 L255.9,223.8 L256.5,223.8 L257.1,223.8 L257.7,223.8 L258.3,223.7 L258.9,223.8 L259.5,223.8 L260.1,223.8 L260.7,223.8 L261.3,223.8 L261.9,223.8 L262.5,223.8 L263.1,223.8 L263.7,223.7 L264.3,223.8 L264.9,222.2 L265.5,223.8 L266.1,223.8 L266.7,223.8 L267.3,222.6 L267.9,223.8 L268.5,222.8 L269.1,223.8 L269.7,223.7 L270.3,223.7 L270.9,223.8 L271.5,223.7 L272.1,223.8 L272.7,223.8 L273.3,222.2 L273.9,223.8 L274.5,223.8 L275.1,223.7 L275.7,223.8 L276.3,223.8 L276.9,223.8 L277.5,223.8 L278.1,223.7 L278.7,223.8 L279.3,223.8 L279.9,222.7 L280.5,223.8" fill="none" stroke="#222" stroke-width="0.9" stroke-linejoin="round" stroke-dasharray="1.1 0.9" clip-path="url(#c0)"/>
<path d="M126.3,221.4 L126.9,221.2 L127.5,219.3 L128.1,218.6 L128.7,219.8 L129.3,220.2 L129.9,219.1 L130.5,217.5 L131.1,218.1 L131.7,219.7 L132.3,216.6 L132.9,219.0 L133.5,218.4 L134.1,218.3 L134.7,218.4 L135.3,216.7 L135.9,216.8 L136.5,218.6 L137.1,215.6 L137.7,215.1 L138.3,213.5 L138.9,214.5 L139.5,215.9 L140.1,216.4 L140.7,214.9 L141.3,213.8 L141.9,212.5 L142.5,210.8 L143.1,210.9 L143.7,208.2 L144.3,210.0 L144.9,207.6 L145.5,203.7 L146.1,202.4 L146.7,202.6 L147.3,200.5 L147.9,198.1 L148.5,198.7 L149.1,199.2 L149.7,197.3 L150.3,196.1 L150.9,190.7 L151.5,193.2 L152.1,192.8 L152.7,188.1 L153.3,189.2 L153.9,181.8 L154.5,182.3 L155.1,180.4 L155.7,177.0 L156.3,177.4 L156.9,176.5 L157.5,173.8 L158.1,171.8 L158.7,170.4 L159.3,165.3 L159.9,166.5 L160.5,173.2 L161.1,170.3 L161.7,173.3 L162.3,170.5 L162.9,176.2 L163.5,176.5 L164.1,178.1 L164.7,177.2 L165.3,182.6 L165.9,188.0 L166.5,182.4 L167.1,192.2 L167.7,192.6 L168.3,194.6 L168.9,197.2 L169.5,204.6 L170.1,203.0 L170.7,206.9 L171.3,207.2 L171.9,208.5 L172.5,211.9 L173.1,212.4 L173.7,212.9 L174.3,215.1 L174.9,217.4 L175.5,216.1 L176.1,216.5 L176.7,218.1 L177.3,219.9 L177.9,220.6 L178.5,220.6 L179.1,221.7 L179.7,220.7 L180.3,220.1 L180.9,222.0 L181.5,222.4 L182.1,223.6 L182.7,223.0 L183.3,223.6 L183.9,223.7 L184.5,223.8 L185.1,223.8 L185.7,223.7 L186.3,223.7 L186.9,223.8 L187.5,223.7 L188.1,223.8 L188.7,223.8 L189.3,223.8 L189.9,223.8 L190.5,223.8 L191.1,223.8 L191.7,223.8 L192.3,223.8 L192.9,223.8 L193.5,223.8 L194.1,223.8 L194.7,223.8 L195.3,223.8 L195.9,223.8 L196.5,223.8 L197.1,223.8 L197.7,223.8 L198.3,223.7 L198.9,223.8 L199.5,223.7 L200.1,223.7 L200.7,223.8 L201.3,223.8 L201.9,223.8 L202.5,223.7 L203.1,223.8 L203.7,223.8 L204.3,223.8 L204.9,223.8 L205.5,223.8 L206.1,223.8 L206.7,222.0 L207.3,223.7 L207.9,223.8 L208.5,223.8 L209.1,223.7 L209.7,223.8 L210.3,223.8 L210.9,223.8 L211.5,223.8 L212.1,223.6 L212.7,223.7 L213.3,223.8 L213.9,223.7 L214.5,223.8 L215.1,223.8 L215.7,222.2 L216.3,223.7 L216.9,223.8 L217.5,223.8 L218.1,223.8 L218.7,223.8 L219.3,223.8 L219.9,223.8 L220.5,223.8 L221.1,223.8 L221.7,223.7 L222.3,223.7 L222.9,223.7 L223.5,223.8 L224.1,223.7 L224.7,223.8 L225.3,223.7 L225.9,223.8 L226.5,223.8 L227.1,223.8 L227.7,223.8 L228.3,223.8 L228.9,223.8 L229.5,223.8 L230.1,223.8 L230.7,223.8 L231.3,223.8 L231.9,223.8 L232.5,223.8 L233.1,223.7 L233.7,223.8 L234.3,223.7 L234.9,223.8 L235.5,223.8 L236.1,222.6 L236.7,223.8 L237.3,223.8 L237.9,223.8 L238.5,223.8 L239.1,223.8 L239.7,223.8 L240.3,223.8 L240.9,223.7 L241.5,223.8 L242.1,223.8 L242.7,223.7 L243.3,223.8 L243.9,223.8 L244.5,223.8 L245.1,223.8 L245.7,223.8 L246.3,223.8 L246.9,223.8 L247.5,223.7 L248.1,223.8 L248.7,223.8 L249.3,223.8 L249.9,223.8 L250.5,223.8 L251.1,223.8 L251.7,223.1 L252.3,223.8 L252.9,223.8 L253.5,223.8 L254.1,223.7 L254.7,223.8 L255.3,223.8 L255.9,223.8 L256.5,223.7 L257.1,223.8 L257.7,223.8 L258.3,223.8 L258.9,223.8 L259.5,223.8 L260.1,223.8 L260.7,223.8 L261.3,223.8 L261.9,223.8 L262.5,223.8 L263.1,223.8 L263.7,223.8 L264.3,223.8 L264.9,223.8 L265.5,223.8 L266.1,223.8 L266.7,223.8 L267.3,222.1 L267.9,223.7 L268.5,223.8 L269.1,223.8 L269.7,223.7 L270.3,223.8 L270.9,222.1 L271.5,223.8 L272.1,223.8 L272.7,222.7 L273.3,223.8 L273.9,223.8 L274.5,223.8 L275.1,223.8 L275.7,223.8 L276.3,223.8 L276.9,223.8 L277.5,223.8 L278.1,223.7 L278.7,223.8 L279.3,223.8 L279.9,223.7 L280.5,223.8" fill="none" stroke="#000" stroke-width="1.5" stroke-linejoin="round" clip-path="url(#c0)"/>
<line x1="123.50" y1="223.50" x2="125.50" y2="223.50" stroke="#222" stroke-width="0.8" />
<line x1="124.20" y1="220.30" x2="125.50" y2="220.30" stroke="#222" stroke-width="0.8" />
<line x1="124.20" y1="217.10" x2="125.50" y2="217.10" stroke="#222" stroke-width="0.8" />
<line x1="124.20" y1="213.90" x2="125.50" y2="213.90" stroke="#222" stroke-width="0.8" />
<line x1="124.20" y1="210.70" x2="125.50" y2="210.70" stroke="#222" stroke-width="0.8" />
<line x1="123.50" y1="207.50" x2="125.50" y2="207.50" stroke="#222" stroke-width="0.8" />
<line x1="124.20" y1="204.30" x2="125.50" y2="204.30" stroke="#222" stroke-width="0.8" />
<line x1="124.20" y1="201.10" x2="125.50" y2="201.10" stroke="#222" stroke-width="0.8" />
<line x1="124.20" y1="197.90" x2="125.50" y2="197.90" stroke="#222" stroke-width="0.8" />
<line x1="124.20" y1="194.70" x2="125.50" y2="194.70" stroke="#222" stroke-width="0.8" />
<line x1="123.50" y1="191.50" x2="125.50" y2="191.50" stroke="#222" stroke-width="0.8" />
<line x1="124.20" y1="188.30" x2="125.50" y2="188.30" stroke="#222" stroke-width="0.8" />
<line x1="124.20" y1="185.10" x2="125.50" y2="185.10" stroke="#222" stroke-width="0.8" />
<line x1="124.20" y1="181.90" x2="125.50" y2="181.90" stroke="#222" stroke-width="0.8" />
<line x1="124.20" y1="178.70" x2="125.50" y2="178.70" stroke="#222" stroke-width="0.8" />
<line x1="123.50" y1="175.50" x2="125.50" y2="175.50" stroke="#222" stroke-width="0.8" />
<line x1="124.20" y1="172.30" x2="125.50" y2="172.30" stroke="#222" stroke-width="0.8" />
<line x1="124.20" y1="169.10" x2="125.50" y2="169.10" stroke="#222" stroke-width="0.8" />
<line x1="124.20" y1="165.90" x2="125.50" y2="165.90" stroke="#222" stroke-width="0.8" />
<line x1="124.20" y1="162.70" x2="125.50" y2="162.70" stroke="#222" stroke-width="0.8" />
<line x1="123.50" y1="159.50" x2="125.50" y2="159.50" stroke="#222" stroke-width="0.8" />
<line x1="124.20" y1="156.30" x2="125.50" y2="156.30" stroke="#222" stroke-width="0.8" />
<line x1="124.20" y1="153.10" x2="125.50" y2="153.10" stroke="#222" stroke-width="0.8" />
<line x1="124.20" y1="149.90" x2="125.50" y2="149.90" stroke="#222" stroke-width="0.8" />
<line x1="124.20" y1="146.70" x2="125.50" y2="146.70" stroke="#222" stroke-width="0.8" />
<line x1="123.50" y1="143.50" x2="125.50" y2="143.50" stroke="#222" stroke-width="0.8" />
<text x="120.20" y="223.50" font-size="4.8" text-anchor="middle" fill="#222" transform="rotate(-90 120.20 223.50)" stroke="#222" stroke-width="0.25" >0</text>
<text x="120.20" y="207.50" font-size="4.8" text-anchor="middle" fill="#222" transform="rotate(-90 120.20 207.50)" stroke="#222" stroke-width="0.25" >30</text>
<text x="120.20" y="191.50" font-size="4.8" text-anchor="middle" fill="#222" transform="rotate(-90 120.20 191.50)" stroke="#222" stroke-width="0.25" >60</text>
<text x="120.20" y="175.50" font-size="4.8" text-anchor="middle" fill="#222" transform="rotate(-90 120.20 175.50)" stroke="#222" stroke-width="0.25" >90</text>
<text x="120.20" y="159.50" font-size="4.8" text-anchor="middle" fill="#222" transform="rotate(-90 120.20 159.50)" stroke="#222" stroke-width="0.25" >120</text>
<text x="120.20" y="143.50" font-size="4.8" text-anchor="middle" fill="#222" transform="rotate(-90 120.20 143.50)" stroke="#222" stroke-width="0.25" >150</text>
<text x="114.10" y="184.30" font-size="5.0" text-anchor="middle" textLength="17.5" lengthAdjust="spacingAndGlyphs" fill="#222" transform="rotate(-90 114.10 184.30)" stroke="#222" stroke-width="0.25" >Counts</text>
<line x1="125.50" y1="223.50" x2="125.50" y2="221.50" stroke="#222" stroke-width="0.8" />
<line x1="137.24" y1="223.50" x2="137.24" y2="222.20" stroke="#222" stroke-width="0.8" />
<line x1="144.11" y1="223.50" x2="144.11" y2="222.20" stroke="#222" stroke-width="0.8" />
<line x1="148.98" y1="223.50" x2="148.98" y2="222.20" stroke="#222" stroke-width="0.8" />
<line x1="152.76" y1="223.50" x2="152.76" y2="222.20" stroke="#222" stroke-width="0.8" />
<line x1="155.85" y1="223.50" x2="155.85" y2="222.20" stroke="#222" stroke-width="0.8" />
<line x1="158.46" y1="223.50" x2="158.46" y2="222.20" stroke="#222" stroke-width="0.8" />
<line x1="160.72" y1="223.50" x2="160.72" y2="222.20" stroke="#222" stroke-width="0.8" />
<line x1="162.72" y1="223.50" x2="162.72" y2="222.20" stroke="#222" stroke-width="0.8" />
<line x1="164.50" y1="223.50" x2="164.50" y2="221.50" stroke="#222" stroke-width="0.8" />
<line x1="176.24" y1="223.50" x2="176.24" y2="222.20" stroke="#222" stroke-width="0.8" />
<line x1="183.11" y1="223.50" x2="183.11" y2="222.20" stroke="#222" stroke-width="0.8" />
<line x1="187.98" y1="223.50" x2="187.98" y2="222.20" stroke="#222" stroke-width="0.8" />
<line x1="191.76" y1="223.50" x2="191.76" y2="222.20" stroke="#222" stroke-width="0.8" />
<line x1="194.85" y1="223.50" x2="194.85" y2="222.20" stroke="#222" stroke-width="0.8" />
<line x1="197.46" y1="223.50" x2="197.46" y2="222.20" stroke="#222" stroke-width="0.8" />
<line x1="199.72" y1="223.50" x2="199.72" y2="222.20" stroke="#222" stroke-width="0.8" />
<line x1="201.72" y1="223.50" x2="201.72" y2="222.20" stroke="#222" stroke-width="0.8" />
<line x1="203.50" y1="223.50" x2="203.50" y2="221.50" stroke="#222" stroke-width="0.8" />
<line x1="215.24" y1="223.50" x2="215.24" y2="222.20" stroke="#222" stroke-width="0.8" />
<line x1="222.11" y1="223.50" x2="222.11" y2="222.20" stroke="#222" stroke-width="0.8" />
<line x1="226.98" y1="223.50" x2="226.98" y2="222.20" stroke="#222" stroke-width="0.8" />
<line x1="230.76" y1="223.50" x2="230.76" y2="222.20" stroke="#222" stroke-width="0.8" />
<line x1="233.85" y1="223.50" x2="233.85" y2="222.20" stroke="#222" stroke-width="0.8" />
<line x1="236.46" y1="223.50" x2="236.46" y2="222.20" stroke="#222" stroke-width="0.8" />
<line x1="238.72" y1="223.50" x2="238.72" y2="222.20" stroke="#222" stroke-width="0.8" />
<line x1="240.72" y1="223.50" x2="240.72" y2="222.20" stroke="#222" stroke-width="0.8" />
<line x1="242.50" y1="223.50" x2="242.50" y2="221.50" stroke="#222" stroke-width="0.8" />
<line x1="254.24" y1="223.50" x2="254.24" y2="222.20" stroke="#222" stroke-width="0.8" />
<line x1="261.11" y1="223.50" x2="261.11" y2="222.20" stroke="#222" stroke-width="0.8" />
<line x1="265.98" y1="223.50" x2="265.98" y2="222.20" stroke="#222" stroke-width="0.8" />
<line x1="269.76" y1="223.50" x2="269.76" y2="222.20" stroke="#222" stroke-width="0.8" />
<line x1="272.85" y1="223.50" x2="272.85" y2="222.20" stroke="#222" stroke-width="0.8" />
<line x1="275.46" y1="223.50" x2="275.46" y2="222.20" stroke="#222" stroke-width="0.8" />
<line x1="277.72" y1="223.50" x2="277.72" y2="222.20" stroke="#222" stroke-width="0.8" />
<line x1="279.72" y1="223.50" x2="279.72" y2="222.20" stroke="#222" stroke-width="0.8" />
<text x="121.70" y="232.90" font-size="5.3" fill="#222" stroke="#222" stroke-width="0.12" >10</text>
<text x="127.40" y="230.00" font-size="4.7" fill="#222" stroke="#222" stroke-width="0.1" >0</text>
<text x="160.70" y="232.90" font-size="5.3" fill="#222" stroke="#222" stroke-width="0.12" >10</text>
<text x="166.40" y="230.00" font-size="4.7" fill="#222" stroke="#222" stroke-width="0.1" >1</text>
<text x="199.70" y="232.90" font-size="5.3" fill="#222" stroke="#222" stroke-width="0.12" >10</text>
<text x="205.40" y="230.00" font-size="4.7" fill="#222" stroke="#222" stroke-width="0.1" >2</text>
<text x="238.70" y="232.90" font-size="5.3" fill="#222" stroke="#222" stroke-width="0.12" >10</text>
<text x="244.40" y="230.00" font-size="4.7" fill="#222" stroke="#222" stroke-width="0.1" >3</text>
<text x="277.70" y="232.90" font-size="5.3" fill="#222" stroke="#222" stroke-width="0.12" >10</text>
<text x="283.40" y="230.00" font-size="4.7" fill="#222" stroke="#222" stroke-width="0.1" >4</text>
<rect x="125.50" y="143.50" width="156.00" height="80.00" fill="none" stroke="#4a4a4a" stroke-width="1" />
<path d="M308.3,207.1 L308.9,207.9 L309.5,200.6 L310.1,198.6 L310.7,201.6 L311.3,204.9 L311.9,199.2 L312.5,192.4 L313.1,193.1 L313.7,194.8 L314.3,196.9 L314.9,192.2 L315.5,189.5 L316.1,189.0 L316.7,190.1 L317.3,185.6 L317.9,186.2 L318.5,185.5 L319.1,190.2 L319.7,182.3 L320.3,184.7 L320.9,176.5 L321.5,183.3 L322.1,179.9 L322.7,177.1 L323.3,179.5 L323.9,183.1 L324.5,178.1 L325.1,183.2 L325.7,186.1 L326.3,189.1 L326.9,189.5 L327.5,179.3 L328.1,186.4 L328.7,183.1 L329.3,189.3 L329.9,186.8 L330.5,188.1 L331.1,189.3 L331.7,186.0 L332.3,189.7 L332.9,188.1 L333.5,198.3 L334.1,190.7 L334.7,194.4 L335.3,189.4 L335.9,191.1 L336.5,194.5 L337.1,200.7 L337.7,201.0 L338.3,200.2 L338.9,198.8 L339.5,207.1 L340.1,199.2 L340.7,200.1 L341.3,204.5 L341.9,201.2 L342.5,205.3 L343.1,207.6 L343.7,205.0 L344.3,206.9 L344.9,207.0 L345.5,206.6 L346.1,201.9 L346.7,207.2 L347.3,210.1 L347.9,206.8 L348.5,210.1 L349.1,212.8 L349.7,216.2 L350.3,211.9 L350.9,214.4 L351.5,216.3 L352.1,217.0 L352.7,213.7 L353.3,219.7 L353.9,215.3 L354.5,219.0 L355.1,217.4 L355.7,218.9 L356.3,221.4 L356.9,220.4 L357.5,220.1 L358.1,219.0 L358.7,219.9 L359.3,219.2 L359.9,223.6 L360.5,219.1 L361.1,217.9 L361.7,223.2 L362.3,222.8 L362.9,220.9 L363.5,222.4 L364.1,220.6 L364.7,221.0 L365.3,222.4 L365.9,222.4 L366.5,221.7 L367.1,224.1 L367.7,223.3 L368.3,220.0 L368.9,223.2 L369.5,222.7 L370.1,223.7 L370.7,225.5 L371.3,222.6 L371.9,224.1 L372.5,225.8 L373.1,224.9 L373.7,224.8 L374.3,225.4 L374.9,224.7 L375.5,225.4 L376.1,225.2 L376.7,225.5 L377.3,225.6 L377.9,225.7 L378.5,225.7 L379.1,225.7 L379.7,225.8 L380.3,225.8 L380.9,225.8 L381.5,225.8 L382.1,225.8 L382.7,225.8 L383.3,225.8 L383.9,225.8 L384.5,225.8 L385.1,225.7 L385.7,224.4 L386.3,225.8 L386.9,224.6 L387.5,225.8 L388.1,225.8 L388.7,225.8 L389.3,224.8 L389.9,225.8 L390.5,225.8 L391.1,225.7 L391.7,225.8 L392.3,225.7 L392.9,225.8 L393.5,225.8 L394.1,225.7 L394.7,225.8 L395.3,225.7 L395.9,225.8 L396.5,225.8 L397.1,225.8 L397.7,225.7 L398.3,225.8 L398.9,225.8 L399.5,225.8 L400.1,224.7 L400.7,225.8 L401.3,225.8 L401.9,225.8 L402.5,225.8 L403.1,225.7 L403.7,225.7 L404.3,225.7 L404.9,225.8 L405.5,225.7 L406.1,225.7 L406.7,225.8 L407.3,225.7 L407.9,225.7 L408.5,225.8 L409.1,225.8 L409.7,225.8 L410.3,225.8 L410.9,225.8 L411.5,225.8 L412.1,225.8 L412.7,225.8 L413.3,225.8 L413.9,225.8 L414.5,225.8 L415.1,225.8 L415.7,225.8 L416.3,225.8 L416.9,225.8 L417.5,225.8 L418.1,225.8 L418.7,225.7 L419.3,225.8 L419.9,225.8 L420.5,225.8 L421.1,225.8 L421.7,225.8 L422.3,224.5 L422.9,225.8 L423.5,225.8 L424.1,225.8 L424.7,225.8 L425.3,225.8 L425.9,225.8 L426.5,225.8 L427.1,225.8 L427.7,225.8 L428.3,225.8 L428.9,225.8 L429.5,225.8 L430.1,225.8 L430.7,225.8 L431.3,225.7 L431.9,225.8 L432.5,225.8 L433.1,225.7 L433.7,225.8 L434.3,225.8 L434.9,225.8 L435.5,225.8 L436.1,225.8 L436.7,225.2 L437.3,225.8 L437.9,225.8 L438.5,225.7 L439.1,225.8 L439.7,225.8 L440.3,225.8 L440.9,225.7 L441.5,225.8 L442.1,225.8 L442.7,225.8 L443.3,225.8 L443.9,225.8 L444.5,225.8 L445.1,225.8 L445.7,225.8 L446.3,225.7 L446.9,225.8 L447.5,225.8 L448.1,224.7 L448.7,225.7 L449.3,225.8 L449.9,225.8 L450.5,225.8 L451.1,225.8 L451.7,225.8 L452.3,225.8 L452.9,225.7 L453.5,225.8 L454.1,225.8 L454.7,224.7 L455.3,225.8 L455.9,225.8 L456.5,225.8 L457.1,225.8 L457.7,225.8 L458.3,225.8 L458.9,225.8 L459.5,225.8 L460.1,225.7 L460.7,225.8 L461.3,225.8 L461.9,224.2" fill="none" stroke="#999" stroke-width="0.9" stroke-linejoin="round" stroke-dasharray="1.1 0.9" clip-path="url(#c1)"/>
<path d="M308.3,205.5 L308.9,202.9 L309.5,212.2 L310.1,201.8 L310.7,200.1 L311.3,200.1 L311.9,195.1 L312.5,192.6 L313.1,196.3 L313.7,192.4 L314.3,195.6 L314.9,190.3 L315.5,183.0 L316.1,183.7 L316.7,185.2 L317.3,179.4 L317.9,184.7 L318.5,182.2 L319.1,186.7 L319.7,177.8 L320.3,178.8 L320.9,181.8 L321.5,181.9 L322.1,169.7 L322.7,170.5 L323.3,175.8 L323.9,183.6 L324.5,176.9 L325.1,176.0 L325.7,173.7 L326.3,181.2 L326.9,192.0 L327.5,180.4 L328.1,190.1 L328.7,189.8 L329.3,183.2 L329.9,189.8 L330.5,191.6 L331.1,185.3 L331.7,185.0 L332.3,192.5 L332.9,190.8 L333.5,197.9 L334.1,192.7 L334.7,189.1 L335.3,193.9 L335.9,190.6 L336.5,198.5 L337.1,199.5 L337.7,196.2 L338.3,195.4 L338.9,202.5 L339.5,199.6 L340.1,204.8 L340.7,198.4 L341.3,201.2 L341.9,201.2 L342.5,200.5 L343.1,211.9 L343.7,209.0 L344.3,203.0 L344.9,208.1 L345.5,202.3 L346.1,211.5 L346.7,211.7 L347.3,208.2 L347.9,208.6 L348.5,210.8 L349.1,212.3 L349.7,211.6 L350.3,211.6 L350.9,213.8 L351.5,214.0 L352.1,216.6 L352.7,215.3 L353.3,215.8 L353.9,212.5 L354.5,215.5 L355.1,216.1 L355.7,216.5 L356.3,217.9 L356.9,218.2 L357.5,216.9 L358.1,221.2 L358.7,221.5 L359.3,219.7 L359.9,221.4 L360.5,219.2 L361.1,218.8 L361.7,220.3 L362.3,222.8 L362.9,220.7 L363.5,218.9 L364.1,221.4 L364.7,220.5 L365.3,220.5 L365.9,222.0 L366.5,219.7 L367.1,219.9 L367.7,220.6 L368.3,223.7 L368.9,222.8 L369.5,222.6 L370.1,223.7 L370.7,223.4 L371.3,223.9 L371.9,224.3 L372.5,224.5 L373.1,224.6 L373.7,225.0 L374.3,224.9 L374.9,225.4 L375.5,225.2 L376.1,225.3 L376.7,225.5 L377.3,225.6 L377.9,225.7 L378.5,225.6 L379.1,225.8 L379.7,225.8 L380.3,225.8 L380.9,224.7 L381.5,225.8 L382.1,224.3 L382.7,225.8 L383.3,225.8 L383.9,225.8 L384.5,225.8 L385.1,224.8 L385.7,225.7 L386.3,225.8 L386.9,225.8 L387.5,225.7 L388.1,225.8 L388.7,225.8 L389.3,225.8 L389.9,225.8 L390.5,225.7 L391.1,225.7 L391.7,225.8 L392.3,225.8 L392.9,224.7 L393.5,225.8 L394.1,225.8 L394.7,225.7 L395.3,225.8 L395.9,225.8 L396.5,225.8 L397.1,225.8 L397.7,225.7 L398.3,225.8 L398.9,225.8 L399.5,225.7 L400.1,225.8 L400.7,225.8 L401.3,225.8 L401.9,225.8 L402.5,225.7 L403.1,225.8 L403.7,225.8 L404.3,225.8 L404.9,225.8 L405.5,225.8 L406.1,225.8 L406.7,225.7 L407.3,225.8 L407.9,225.8 L408.5,224.0 L409.1,225.8 L409.7,225.8 L410.3,224.0 L410.9,225.8 L411.5,225.8 L412.1,225.8 L412.7,225.8 L413.3,225.8 L413.9,225.7 L414.5,224.3 L415.1,225.8 L415.7,225.7 L416.3,225.8 L416.9,225.8 L417.5,225.8 L418.1,225.8 L418.7,225.8 L419.3,225.8 L419.9,225.8 L420.5,225.8 L421.1,225.8 L421.7,225.8 L422.3,225.7 L422.9,225.8 L423.5,225.8 L424.1,225.8 L424.7,225.7 L425.3,225.8 L425.9,225.8 L426.5,225.8 L427.1,225.7 L427.7,225.8 L428.3,225.8 L428.9,224.5 L429.5,225.8 L430.1,225.8 L430.7,225.8 L431.3,225.8 L431.9,224.6 L432.5,225.8 L433.1,225.8 L433.7,225.8 L434.3,225.8 L434.9,225.8 L435.5,225.8 L436.1,225.8 L436.7,225.7 L437.3,225.8 L437.9,225.1 L438.5,225.8 L439.1,225.8 L439.7,225.7 L440.3,225.8 L440.9,225.8 L441.5,224.8 L442.1,225.7 L442.7,225.8 L443.3,225.8 L443.9,225.8 L444.5,225.8 L445.1,225.8 L445.7,225.8 L446.3,225.8 L446.9,225.8 L447.5,225.8 L448.1,225.8 L448.7,224.2 L449.3,225.8 L449.9,225.8 L450.5,225.0 L451.1,225.8 L451.7,225.8 L452.3,225.8 L452.9,225.8 L453.5,225.8 L454.1,225.8 L454.7,225.8 L455.3,225.8 L455.9,224.2 L456.5,225.7 L457.1,225.7 L457.7,225.0 L458.3,225.8 L458.9,225.8 L459.5,225.8 L460.1,225.8 L460.7,225.8 L461.3,225.8 L461.9,225.8" fill="none" stroke="#333" stroke-width="0.9" stroke-linejoin="round" stroke-dasharray="1.1 0.9" clip-path="url(#c1)"/>
<path d="M308.3,222.1 L308.9,218.1 L309.5,219.6 L310.1,218.5 L310.7,217.3 L311.3,217.1 L311.9,216.5 L312.5,216.4 L313.1,216.4 L313.7,216.7 L314.3,214.8 L314.9,215.7 L315.5,214.1 L316.1,213.1 L316.7,212.2 L317.3,210.7 L317.9,209.6 L318.5,212.1 L319.1,211.7 L319.7,212.3 L320.3,211.9 L320.9,208.4 L321.5,208.9 L322.1,207.6 L322.7,211.2 L323.3,208.6 L323.9,208.8 L324.5,206.5 L325.1,205.6 L325.7,207.0 L326.3,207.7 L326.9,208.4 L327.5,203.7 L328.1,206.9 L328.7,203.5 L329.3,203.4 L329.9,203.0 L330.5,202.0 L331.1,203.4 L331.7,203.8 L332.3,202.3 L332.9,200.1 L333.5,202.1 L334.1,201.3 L334.7,201.3 L335.3,198.6 L335.9,192.6 L336.5,194.1 L337.1,194.8 L337.7,197.8 L338.3,194.0 L338.9,195.9 L339.5,193.6 L340.1,189.2 L340.7,190.9 L341.3,190.5 L341.9,189.0 L342.5,182.9 L343.1,186.9 L343.7,181.9 L344.3,176.2 L344.9,180.1 L345.5,176.1 L346.1,177.5 L346.7,188.2 L347.3,195.0 L347.9,194.7 L348.5,194.3 L349.1,201.0 L349.7,199.8 L350.3,197.5 L350.9,194.7 L351.5,204.1 L352.1,198.1 L352.7,197.1 L353.3,202.8 L353.9,205.6 L354.5,204.7 L355.1,209.0 L355.7,207.0 L356.3,208.3 L356.9,209.8 L357.5,209.0 L358.1,211.7 L358.7,216.4 L359.3,211.5 L359.9,213.7 L360.5,214.4 L361.1,213.1 L361.7,214.6 L362.3,213.0 L362.9,215.9 L363.5,217.4 L364.1,219.5 L364.7,219.6 L365.3,217.7 L365.9,217.1 L366.5,221.0 L367.1,220.1 L367.7,217.1 L368.3,219.4 L368.9,219.2 L369.5,219.9 L370.1,219.2 L370.7,220.8 L371.3,220.9 L371.9,221.2 L372.5,222.5 L373.1,221.7 L373.7,220.4 L374.3,220.0 L374.9,221.2 L375.5,222.9 L376.1,222.8 L376.7,221.6 L377.3,223.3 L377.9,222.9 L378.5,222.2 L379.1,222.0 L379.7,222.8 L380.3,222.6 L380.9,222.7 L381.5,223.9 L382.1,223.7 L382.7,224.1 L383.3,224.2 L383.9,225.3 L384.5,225.2 L385.1,224.7 L385.7,225.1 L386.3,225.4 L386.9,225.5 L387.5,225.5 L388.1,225.7 L388.7,225.7 L389.3,225.8 L389.9,225.8 L390.5,225.8 L391.1,225.8 L391.7,225.8 L392.3,225.8 L392.9,225.8 L393.5,225.8 L394.1,225.8 L394.7,225.8 L395.3,225.8 L395.9,225.8 L396.5,225.8 L397.1,225.8 L397.7,225.8 L398.3,225.8 L398.9,225.8 L399.5,225.8 L400.1,225.8 L400.7,225.8 L401.3,225.8 L401.9,225.8 L402.5,224.5 L403.1,225.8 L403.7,225.8 L404.3,225.7 L404.9,225.8 L405.5,225.8 L406.1,225.8 L406.7,225.8 L407.3,225.8 L407.9,225.8 L408.5,225.8 L409.1,225.8 L409.7,225.8 L410.3,225.8 L410.9,225.8 L411.5,225.8 L412.1,225.8 L412.7,225.8 L413.3,225.8 L413.9,225.8 L414.5,224.8 L415.1,225.7 L415.7,225.8 L416.3,225.8 L416.9,225.8 L417.5,225.8 L418.1,225.8 L418.7,225.7 L419.3,225.8 L419.9,225.8 L420.5,225.7 L421.1,225.8 L421.7,225.8 L422.3,225.8 L422.9,225.8 L423.5,225.8 L424.1,225.7 L424.7,225.8 L425.3,225.8 L425.9,225.7 L426.5,225.8 L427.1,225.8 L427.7,225.8 L428.3,225.7 L428.9,225.7 L429.5,225.8 L430.1,225.8 L430.7,225.8 L431.3,225.8 L431.9,224.2 L432.5,225.8 L433.1,225.8 L433.7,225.8 L434.3,225.8 L434.9,225.8 L435.5,225.8 L436.1,225.8 L436.7,225.8 L437.3,225.7 L437.9,225.8 L438.5,225.8 L439.1,225.7 L439.7,225.7 L440.3,225.8 L440.9,225.8 L441.5,225.8 L442.1,225.8 L442.7,225.8 L443.3,225.8 L443.9,225.7 L444.5,225.8 L445.1,225.8 L445.7,225.8 L446.3,225.7 L446.9,225.8 L447.5,225.8 L448.1,225.8 L448.7,225.8 L449.3,225.8 L449.9,225.8 L450.5,225.8 L451.1,225.8 L451.7,225.8 L452.3,225.7 L452.9,225.8 L453.5,225.8 L454.1,225.7 L454.7,225.8 L455.3,225.7 L455.9,225.8 L456.5,225.8 L457.1,225.7 L457.7,225.8 L458.3,225.8 L458.9,225.8 L459.5,225.8 L460.1,224.5 L460.7,225.8 L461.3,225.8 L461.9,225.7" fill="none" stroke="#8a8a8a" stroke-width="0.9" stroke-linejoin="round" clip-path="url(#c1)"/>
<path d="M308.3,225.8 L308.9,225.6 L309.5,225.6 L310.1,225.6 L310.7,225.3 L311.3,225.2 L311.9,222.7 L312.5,224.1 L313.1,220.9 L313.7,222.4 L314.3,221.5 L314.9,224.4 L315.5,223.5 L316.1,222.9 L316.7,222.3 L317.3,221.4 L317.9,221.4 L318.5,222.5 L319.1,220.6 L319.7,221.2 L320.3,223.3 L320.9,219.7 L321.5,220.2 L322.1,223.3 L322.7,221.5 L323.3,221.2 L323.9,219.9 L324.5,218.9 L325.1,221.9 L325.7,216.2 L326.3,219.9 L326.9,217.8 L327.5,218.0 L328.1,214.4 L328.7,219.0 L329.3,218.5 L329.9,217.8 L330.5,217.6 L331.1,213.7 L331.7,215.7 L332.3,215.4 L332.9,213.4 L333.5,206.2 L334.1,212.1 L334.7,212.3 L335.3,209.5 L335.9,211.3 L336.5,212.9 L337.1,208.0 L337.7,209.8 L338.3,203.4 L338.9,201.6 L339.5,203.8 L340.1,200.3 L340.7,196.9 L341.3,201.6 L341.9,200.0 L342.5,201.4 L343.1,195.8 L343.7,195.8 L344.3,198.1 L344.9,194.6 L345.5,194.4 L346.1,194.7 L346.7,191.0 L347.3,193.7 L347.9,186.5 L348.5,192.7 L349.1,199.6 L349.7,190.9 L350.3,183.5 L350.9,181.8 L351.5,182.9 L352.1,185.9 L352.7,184.5 L353.3,189.7 L353.9,188.5 L354.5,190.0 L355.1,185.4 L355.7,174.0 L356.3,192.2 L356.9,184.1 L357.5,186.6 L358.1,186.1 L358.7,186.1 L359.3,190.5 L359.9,176.7 L360.5,178.0 L361.1,183.0 L361.7,183.1 L362.3,189.4 L362.9,194.0 L363.5,191.4 L364.1,189.2 L364.7,191.9 L365.3,189.6 L365.9,196.7 L366.5,194.1 L367.1,198.8 L367.7,196.8 L368.3,197.1 L368.9,192.7 L369.5,198.6 L370.1,196.5 L370.7,196.5 L371.3,199.7 L371.9,204.9 L372.5,201.8 L373.1,206.8 L373.7,203.8 L374.3,199.0 L374.9,201.6 L375.5,209.0 L376.1,207.0 L376.7,207.7 L377.3,208.5 L377.9,211.4 L378.5,212.5 L379.1,211.1 L379.7,212.8 L380.3,214.9 L380.9,213.9 L381.5,216.7 L382.1,216.6 L382.7,216.9 L383.3,217.1 L383.9,218.6 L384.5,219.6 L385.1,223.7 L385.7,222.3 L386.3,223.0 L386.9,222.0 L387.5,224.5 L388.1,224.9 L388.7,224.0 L389.3,225.2 L389.9,224.9 L390.5,225.0 L391.1,225.6 L391.7,225.8 L392.3,225.7 L392.9,225.8 L393.5,225.0 L394.1,225.8 L394.7,225.8 L395.3,225.8 L395.9,225.8 L396.5,225.7 L397.1,225.8 L397.7,225.8 L398.3,225.8 L398.9,225.8 L399.5,225.8 L400.1,225.8 L400.7,225.8 L401.3,225.8 L401.9,225.8 L402.5,225.8 L403.1,225.8 L403.7,225.8 L404.3,225.8 L404.9,225.8 L405.5,225.8 L406.1,225.8 L406.7,225.8 L407.3,225.8 L407.9,225.8 L408.5,225.7 L409.1,225.8 L409.7,225.8 L410.3,225.8 L410.9,225.8 L411.5,225.7 L412.1,225.7 L412.7,225.8 L413.3,225.8 L413.9,225.7 L414.5,225.8 L415.1,225.8 L415.7,225.8 L416.3,225.8 L416.9,225.8 L417.5,225.8 L418.1,225.8 L418.7,225.8 L419.3,225.8 L419.9,225.8 L420.5,225.8 L421.1,225.8 L421.7,225.7 L422.3,224.8 L422.9,225.8 L423.5,225.7 L424.1,225.8 L424.7,225.8 L425.3,225.7 L425.9,225.8 L426.5,225.8 L427.1,225.8 L427.7,225.7 L428.3,225.8 L428.9,225.8 L429.5,225.8 L430.1,225.8 L430.7,225.8 L431.3,225.8 L431.9,225.7 L432.5,225.8 L433.1,225.8 L433.7,225.7 L434.3,225.8 L434.9,225.8 L435.5,225.8 L436.1,225.8 L436.7,225.8 L437.3,225.8 L437.9,225.8 L438.5,225.7 L439.1,225.8 L439.7,225.8 L440.3,225.8 L440.9,225.8 L441.5,225.8 L442.1,225.8 L442.7,225.8 L443.3,225.8 L443.9,225.8 L444.5,225.8 L445.1,225.8 L445.7,225.8 L446.3,224.4 L446.9,225.8 L447.5,225.7 L448.1,225.7 L448.7,225.0 L449.3,225.8 L449.9,225.7 L450.5,225.7 L451.1,225.7 L451.7,225.8 L452.3,225.7 L452.9,225.8 L453.5,225.8 L454.1,225.8 L454.7,225.8 L455.3,225.7 L455.9,225.8 L456.5,225.7 L457.1,225.8 L457.7,224.1 L458.3,225.8 L458.9,225.8 L459.5,225.6 L460.1,225.8 L460.7,225.8 L461.3,225.8 L461.9,225.8" fill="none" stroke="#000" stroke-width="1.6" stroke-linejoin="round" clip-path="url(#c1)"/>
<line x1="305.50" y1="225.50" x2="307.50" y2="225.50" stroke="#222" stroke-width="0.8" />
<line x1="306.20" y1="223.16" x2="307.50" y2="223.16" stroke="#222" stroke-width="0.8" />
<line x1="306.20" y1="220.81" x2="307.50" y2="220.81" stroke="#222" stroke-width="0.8" />
<line x1="306.20" y1="218.47" x2="307.50" y2="218.47" stroke="#222" stroke-width="0.8" />
<line x1="306.20" y1="216.13" x2="307.50" y2="216.13" stroke="#222" stroke-width="0.8" />
<line x1="305.50" y1="213.79" x2="307.50" y2="213.79" stroke="#222" stroke-width="0.8" />
<line x1="306.20" y1="211.44" x2="307.50" y2="211.44" stroke="#222" stroke-width="0.8" />
<line x1="306.20" y1="209.10" x2="307.50" y2="209.10" stroke="#222" stroke-width="0.8" />
<line x1="306.20" y1="206.76" x2="307.50" y2="206.76" stroke="#222" stroke-width="0.8" />
<line x1="306.20" y1="204.41" x2="307.50" y2="204.41" stroke="#222" stroke-width="0.8" />
<line x1="305.50" y1="202.07" x2="307.50" y2="202.07" stroke="#222" stroke-width="0.8" />
<line x1="306.20" y1="199.73" x2="307.50" y2="199.73" stroke="#222" stroke-width="0.8" />
<line x1="306.20" y1="197.39" x2="307.50" y2="197.39" stroke="#222" stroke-width="0.8" />
<line x1="306.20" y1="195.04" x2="307.50" y2="195.04" stroke="#222" stroke-width="0.8" />
<line x1="306.20" y1="192.70" x2="307.50" y2="192.70" stroke="#222" stroke-width="0.8" />
<line x1="305.50" y1="190.36" x2="307.50" y2="190.36" stroke="#222" stroke-width="0.8" />
<line x1="306.20" y1="188.01" x2="307.50" y2="188.01" stroke="#222" stroke-width="0.8" />
<line x1="306.20" y1="185.67" x2="307.50" y2="185.67" stroke="#222" stroke-width="0.8" />
<line x1="306.20" y1="183.33" x2="307.50" y2="183.33" stroke="#222" stroke-width="0.8" />
<line x1="306.20" y1="180.99" x2="307.50" y2="180.99" stroke="#222" stroke-width="0.8" />
<line x1="305.50" y1="178.64" x2="307.50" y2="178.64" stroke="#222" stroke-width="0.8" />
<line x1="306.20" y1="176.30" x2="307.50" y2="176.30" stroke="#222" stroke-width="0.8" />
<line x1="306.20" y1="173.96" x2="307.50" y2="173.96" stroke="#222" stroke-width="0.8" />
<line x1="306.20" y1="171.61" x2="307.50" y2="171.61" stroke="#222" stroke-width="0.8" />
<line x1="306.20" y1="169.27" x2="307.50" y2="169.27" stroke="#222" stroke-width="0.8" />
<line x1="305.50" y1="166.93" x2="307.50" y2="166.93" stroke="#222" stroke-width="0.8" />
<line x1="306.20" y1="164.59" x2="307.50" y2="164.59" stroke="#222" stroke-width="0.8" />
<line x1="306.20" y1="162.24" x2="307.50" y2="162.24" stroke="#222" stroke-width="0.8" />
<line x1="306.20" y1="159.90" x2="307.50" y2="159.90" stroke="#222" stroke-width="0.8" />
<line x1="306.20" y1="157.56" x2="307.50" y2="157.56" stroke="#222" stroke-width="0.8" />
<line x1="305.50" y1="155.21" x2="307.50" y2="155.21" stroke="#222" stroke-width="0.8" />
<line x1="306.20" y1="152.87" x2="307.50" y2="152.87" stroke="#222" stroke-width="0.8" />
<line x1="306.20" y1="150.53" x2="307.50" y2="150.53" stroke="#222" stroke-width="0.8" />
<line x1="306.20" y1="148.19" x2="307.50" y2="148.19" stroke="#222" stroke-width="0.8" />
<line x1="306.20" y1="145.84" x2="307.50" y2="145.84" stroke="#222" stroke-width="0.8" />
<line x1="305.50" y1="143.50" x2="307.50" y2="143.50" stroke="#222" stroke-width="0.8" />
<text x="302.20" y="225.50" font-size="4.8" text-anchor="middle" fill="#222" transform="rotate(-90 302.20 225.50)" stroke="#222" stroke-width="0.25" >0</text>
<text x="302.20" y="213.79" font-size="4.8" text-anchor="middle" fill="#222" transform="rotate(-90 302.20 213.79)" stroke="#222" stroke-width="0.25" >10</text>
<text x="302.20" y="202.07" font-size="4.8" text-anchor="middle" fill="#222" transform="rotate(-90 302.20 202.07)" stroke="#222" stroke-width="0.25" >20</text>
<text x="302.20" y="190.36" font-size="4.8" text-anchor="middle" fill="#222" transform="rotate(-90 302.20 190.36)" stroke="#222" stroke-width="0.25" >30</text>
<text x="302.20" y="178.64" font-size="4.8" text-anchor="middle" fill="#222" transform="rotate(-90 302.20 178.64)" stroke="#222" stroke-width="0.25" >40</text>
<text x="302.20" y="166.93" font-size="4.8" text-anchor="middle" fill="#222" transform="rotate(-90 302.20 166.93)" stroke="#222" stroke-width="0.25" >50</text>
<text x="302.20" y="155.21" font-size="4.8" text-anchor="middle" fill="#222" transform="rotate(-90 302.20 155.21)" stroke="#222" stroke-width="0.25" >60</text>
<text x="302.20" y="143.50" font-size="4.8" text-anchor="middle" fill="#222" transform="rotate(-90 302.20 143.50)" stroke="#222" stroke-width="0.25" >70</text>
<text x="296.10" y="185.32" font-size="5.0" text-anchor="middle" textLength="17.5" lengthAdjust="spacingAndGlyphs" fill="#222" transform="rotate(-90 296.10 185.32)" stroke="#222" stroke-width="0.25" >Counts</text>
<line x1="307.50" y1="225.50" x2="307.50" y2="223.50" stroke="#222" stroke-width="0.8" />
<line x1="319.20" y1="225.50" x2="319.20" y2="224.20" stroke="#222" stroke-width="0.8" />
<line x1="326.05" y1="225.50" x2="326.05" y2="224.20" stroke="#222" stroke-width="0.8" />
<line x1="330.91" y1="225.50" x2="330.91" y2="224.20" stroke="#222" stroke-width="0.8" />
<line x1="334.67" y1="225.50" x2="334.67" y2="224.20" stroke="#222" stroke-width="0.8" />
<line x1="337.75" y1="225.50" x2="337.75" y2="224.20" stroke="#222" stroke-width="0.8" />
<line x1="340.35" y1="225.50" x2="340.35" y2="224.20" stroke="#222" stroke-width="0.8" />
<line x1="342.61" y1="225.50" x2="342.61" y2="224.20" stroke="#222" stroke-width="0.8" />
<line x1="344.60" y1="225.50" x2="344.60" y2="224.20" stroke="#222" stroke-width="0.8" />
<line x1="346.38" y1="225.50" x2="346.38" y2="223.50" stroke="#222" stroke-width="0.8" />
<line x1="358.08" y1="225.50" x2="358.08" y2="224.20" stroke="#222" stroke-width="0.8" />
<line x1="364.92" y1="225.50" x2="364.92" y2="224.20" stroke="#222" stroke-width="0.8" />
<line x1="369.78" y1="225.50" x2="369.78" y2="224.20" stroke="#222" stroke-width="0.8" />
<line x1="373.55" y1="225.50" x2="373.55" y2="224.20" stroke="#222" stroke-width="0.8" />
<line x1="376.63" y1="225.50" x2="376.63" y2="224.20" stroke="#222" stroke-width="0.8" />
<line x1="379.23" y1="225.50" x2="379.23" y2="224.20" stroke="#222" stroke-width="0.8" />
<line x1="381.48" y1="225.50" x2="381.48" y2="224.20" stroke="#222" stroke-width="0.8" />
<line x1="383.47" y1="225.50" x2="383.47" y2="224.20" stroke="#222" stroke-width="0.8" />
<line x1="385.25" y1="225.50" x2="385.25" y2="223.50" stroke="#222" stroke-width="0.8" />
<line x1="396.95" y1="225.50" x2="396.95" y2="224.20" stroke="#222" stroke-width="0.8" />
<line x1="403.80" y1="225.50" x2="403.80" y2="224.20" stroke="#222" stroke-width="0.8" />
<line x1="408.66" y1="225.50" x2="408.66" y2="224.20" stroke="#222" stroke-width="0.8" />
<line x1="412.42" y1="225.50" x2="412.42" y2="224.20" stroke="#222" stroke-width="0.8" />
<line x1="415.50" y1="225.50" x2="415.50" y2="224.20" stroke="#222" stroke-width="0.8" />
<line x1="418.10" y1="225.50" x2="418.10" y2="224.20" stroke="#222" stroke-width="0.8" />
<line x1="420.36" y1="225.50" x2="420.36" y2="224.20" stroke="#222" stroke-width="0.8" />
<line x1="422.35" y1="225.50" x2="422.35" y2="224.20" stroke="#222" stroke-width="0.8" />
<line x1="424.12" y1="225.50" x2="424.12" y2="223.50" stroke="#222" stroke-width="0.8" />
<line x1="435.83" y1="225.50" x2="435.83" y2="224.20" stroke="#222" stroke-width="0.8" />
<line x1="442.67" y1="225.50" x2="442.67" y2="224.20" stroke="#222" stroke-width="0.8" />
<line x1="447.53" y1="225.50" x2="447.53" y2="224.20" stroke="#222" stroke-width="0.8" />
<line x1="451.30" y1="225.50" x2="451.30" y2="224.20" stroke="#222" stroke-width="0.8" />
<line x1="454.38" y1="225.50" x2="454.38" y2="224.20" stroke="#222" stroke-width="0.8" />
<line x1="456.98" y1="225.50" x2="456.98" y2="224.20" stroke="#222" stroke-width="0.8" />
<line x1="459.23" y1="225.50" x2="459.23" y2="224.20" stroke="#222" stroke-width="0.8" />
<line x1="461.22" y1="225.50" x2="461.22" y2="224.20" stroke="#222" stroke-width="0.8" />
<text x="303.70" y="234.90" font-size="5.3" fill="#222" stroke="#222" stroke-width="0.12" >10</text>
<text x="309.40" y="232.00" font-size="4.7" fill="#222" stroke="#222" stroke-width="0.1" >0</text>
<text x="342.57" y="234.90" font-size="5.3" fill="#222" stroke="#222" stroke-width="0.12" >10</text>
<text x="348.27" y="232.00" font-size="4.7" fill="#222" stroke="#222" stroke-width="0.1" >1</text>
<text x="381.45" y="234.90" font-size="5.3" fill="#222" stroke="#222" stroke-width="0.12" >10</text>
<text x="387.15" y="232.00" font-size="4.7" fill="#222" stroke="#222" stroke-width="0.1" >2</text>
<text x="420.32" y="234.90" font-size="5.3" fill="#222" stroke="#222" stroke-width="0.12" >10</text>
<text x="426.02" y="232.00" font-size="4.7" fill="#222" stroke="#222" stroke-width="0.1" >3</text>
<text x="459.20" y="234.90" font-size="5.3" fill="#222" stroke="#222" stroke-width="0.12" >10</text>
<text x="464.90" y="232.00" font-size="4.7" fill="#222" stroke="#222" stroke-width="0.1" >4</text>
<rect x="307.50" y="143.50" width="155.50" height="82.00" fill="none" stroke="#4a4a4a" stroke-width="1" />
<path d="M127.5,298.7 L128.1,296.1 L128.7,289.3 L129.3,288.0 L129.9,284.9 L130.5,284.5 L131.1,282.7 L131.7,283.1 L132.3,279.2 L132.9,277.1 L133.5,271.5 L134.1,269.5 L134.7,267.5 L135.3,268.9 L135.9,262.5 L136.5,270.8 L137.1,266.2 L137.7,265.3 L138.3,267.0 L138.9,263.8 L139.5,264.7 L140.1,265.5 L140.7,262.3 L141.3,268.1 L141.9,265.8 L142.5,268.5 L143.1,266.1 L143.7,267.4 L144.3,273.5 L144.9,270.9 L145.5,274.2 L146.1,279.2 L146.7,283.7 L147.3,277.7 L147.9,285.5 L148.5,284.8 L149.1,288.6 L149.7,288.5 L150.3,293.8 L150.9,298.0 L151.5,296.1 L152.1,296.0 L152.7,298.1 L153.3,300.7 L153.9,305.2 L154.5,306.8 L155.1,307.3 L155.7,309.0 L156.3,307.3 L156.9,307.7 L157.5,312.8 L158.1,310.8 L158.7,313.9 L159.3,313.2 L159.9,313.5 L160.5,314.3 L161.1,313.2 L161.7,313.4 L162.3,314.3 L162.9,314.6 L163.5,315.9 L164.1,317.3 L164.7,315.6 L165.3,316.3 L165.9,317.8 L166.5,317.9 L167.1,318.5 L167.7,317.6 L168.3,318.4 L168.9,318.0 L169.5,317.1 L170.1,318.4 L170.7,317.3 L171.3,318.5 L171.9,318.0 L172.5,318.3 L173.1,319.6 L173.7,319.4 L174.3,318.9 L174.9,319.2 L175.5,318.5 L176.1,319.2 L176.7,318.9 L177.3,319.1 L177.9,320.0 L178.5,320.2 L179.1,320.0 L179.7,319.8 L180.3,320.2 L180.9,320.4 L181.5,320.6 L182.1,320.8 L182.7,321.2 L183.3,321.1 L183.9,321.2 L184.5,321.1 L185.1,321.3 L185.7,321.4 L186.3,321.5 L186.9,321.6 L187.5,321.7 L188.1,321.7 L188.7,321.8 L189.3,321.7 L189.9,321.8 L190.5,321.8 L191.1,321.8 L191.7,321.8 L192.3,321.8 L192.9,321.7 L193.5,320.5 L194.1,321.7 L194.7,321.8 L195.3,321.8 L195.9,321.7 L196.5,321.8 L197.1,321.8 L197.7,321.8 L198.3,321.8 L198.9,321.8 L199.5,321.7 L200.1,321.8 L200.7,321.8 L201.3,321.8 L201.9,320.7 L202.5,321.8 L203.1,321.8 L203.7,321.8 L204.3,321.8 L204.9,321.8 L205.5,321.8 L206.1,321.8 L206.7,321.8 L207.3,321.8 L207.9,321.8 L208.5,321.8 L209.1,321.7 L209.7,321.8 L210.3,321.7 L210.9,321.8 L211.5,321.8 L212.1,321.8 L212.7,321.8 L213.3,321.8 L213.9,321.6 L214.5,320.8 L215.1,321.8 L215.7,321.8 L216.3,321.8 L216.9,321.8 L217.5,321.7 L218.1,321.8 L218.7,321.8 L219.3,321.7 L219.9,320.6 L220.5,321.8 L221.1,321.8 L221.7,321.8 L222.3,320.3 L222.9,321.7 L223.5,321.7 L224.1,321.8 L224.7,321.8 L225.3,321.7 L225.9,321.8 L226.5,321.8 L227.1,321.8 L227.7,321.7 L228.3,321.8 L228.9,321.8 L229.5,321.8 L230.1,321.8 L230.7,321.8 L231.3,321.8 L231.9,321.8 L232.5,321.8 L233.1,321.8 L233.7,321.8 L234.3,321.8 L234.9,321.8 L235.5,321.8 L236.1,321.8 L236.7,321.8 L237.3,321.8 L237.9,321.7 L238.5,321.8 L239.1,321.7 L239.7,321.7 L240.3,321.7 L240.9,321.8 L241.5,321.8 L242.1,321.7 L242.7,321.8 L243.3,321.8 L243.9,321.8 L244.5,321.8 L245.1,321.8 L245.7,321.7 L246.3,321.8 L246.9,321.8 L247.5,321.8 L248.1,321.8 L248.7,321.8 L249.3,321.8 L249.9,321.8 L250.5,321.8 L251.1,321.8 L251.7,321.7 L252.3,321.8 L252.9,321.8 L253.5,321.8 L254.1,321.8 L254.7,321.8 L255.3,321.8 L255.9,320.8 L256.5,321.8 L257.1,321.8 L257.7,321.8 L258.3,321.8 L258.9,321.8 L259.5,321.8 L260.1,321.7 L260.7,321.8 L261.3,321.8 L261.9,321.8 L262.5,321.8 L263.1,320.5 L263.7,321.8 L264.3,321.8 L264.9,321.8 L265.5,321.8 L266.1,321.8 L266.7,321.8 L267.3,321.8 L267.9,321.8 L268.5,321.8 L269.1,321.8 L269.7,321.8 L270.3,321.7 L270.9,320.7 L271.5,321.8 L272.1,321.8 L272.7,321.8 L273.3,321.8 L273.9,321.8 L274.5,321.8 L275.1,321.8 L275.7,321.8 L276.3,321.8 L276.9,321.8 L277.5,321.8 L278.1,321.8 L278.7,321.8" fill="none" stroke="#aaa" stroke-width="0.9" stroke-linejoin="round" stroke-dasharray="1.1 0.9" clip-path="url(#c2)"/>
<path d="M127.5,305.7 L128.1,304.2 L128.7,299.9 L129.3,300.5 L129.9,293.7 L130.5,295.6 L131.1,295.3 L131.7,292.5 L132.3,289.8 L132.9,284.7 L133.5,288.5 L134.1,283.7 L134.7,284.2 L135.3,283.1 L135.9,281.5 L136.5,279.0 L137.1,281.8 L137.7,278.3 L138.3,279.9 L138.9,274.5 L139.5,278.0 L140.1,275.5 L140.7,275.8 L141.3,274.8 L141.9,275.0 L142.5,273.7 L143.1,273.6 L143.7,273.1 L144.3,272.8 L144.9,272.2 L145.5,271.2 L146.1,272.6 L146.7,269.6 L147.3,275.4 L147.9,273.0 L148.5,275.1 L149.1,272.9 L149.7,271.3 L150.3,271.2 L150.9,273.8 L151.5,275.8 L152.1,277.5 L152.7,277.9 L153.3,281.4 L153.9,278.9 L154.5,289.1 L155.1,287.5 L155.7,288.8 L156.3,287.2 L156.9,293.2 L157.5,293.2 L158.1,297.7 L158.7,297.8 L159.3,299.2 L159.9,301.1 L160.5,303.3 L161.1,304.5 L161.7,306.3 L162.3,306.2 L162.9,307.8 L163.5,311.6 L164.1,310.7 L164.7,310.8 L165.3,309.9 L165.9,309.9 L166.5,312.6 L167.1,313.8 L167.7,312.9 L168.3,313.7 L168.9,315.2 L169.5,316.1 L170.1,317.1 L170.7,316.7 L171.3,316.4 L171.9,317.3 L172.5,316.5 L173.1,316.5 L173.7,317.2 L174.3,318.1 L174.9,318.5 L175.5,319.4 L176.1,319.8 L176.7,320.8 L177.3,320.7 L177.9,321.3 L178.5,321.4 L179.1,321.7 L179.7,321.8 L180.3,321.8 L180.9,321.8 L181.5,321.7 L182.1,321.8 L182.7,321.8 L183.3,320.2 L183.9,321.8 L184.5,321.7 L185.1,321.8 L185.7,321.8 L186.3,321.8 L186.9,321.8 L187.5,321.8 L188.1,321.8 L188.7,321.8 L189.3,321.8 L189.9,321.8 L190.5,321.8 L191.1,321.7 L191.7,321.7 L192.3,321.8 L192.9,321.8 L193.5,321.8 L194.1,321.8 L194.7,321.8 L195.3,320.6 L195.9,321.8 L196.5,321.8 L197.1,321.8 L197.7,321.8 L198.3,321.8 L198.9,321.8 L199.5,321.8 L200.1,321.8 L200.7,321.8 L201.3,321.8 L201.9,321.8 L202.5,321.8 L203.1,321.8 L203.7,321.8 L204.3,321.8 L204.9,321.8 L205.5,320.7 L206.1,321.8 L206.7,321.8 L207.3,321.8 L207.9,321.8 L208.5,321.7 L209.1,321.8 L209.7,321.8 L210.3,321.8 L210.9,321.8 L211.5,321.7 L212.1,321.8 L212.7,321.8 L213.3,321.8 L213.9,321.7 L214.5,321.8 L215.1,321.7 L215.7,320.5 L216.3,321.8 L216.9,321.8 L217.5,321.8 L218.1,321.8 L218.7,321.8 L219.3,321.7 L219.9,321.8 L220.5,321.8 L221.1,321.7 L221.7,321.7 L222.3,321.8 L222.9,321.8 L223.5,321.8 L224.1,321.8 L224.7,321.8 L225.3,321.8 L225.9,321.8 L226.5,321.8 L227.1,321.8 L227.7,321.8 L228.3,321.8 L228.9,321.8 L229.5,321.8 L230.1,321.8 L230.7,321.8 L231.3,321.8 L231.9,321.8 L232.5,321.8 L233.1,321.8 L233.7,321.8 L234.3,321.8 L234.9,321.8 L235.5,321.8 L236.1,320.8 L236.7,321.8 L237.3,321.8 L237.9,321.8 L238.5,321.8 L239.1,321.7 L239.7,321.8 L240.3,321.8 L240.9,321.8 L241.5,321.8 L242.1,321.8 L242.7,321.8 L243.3,320.9 L243.9,321.8 L244.5,321.8 L245.1,321.2 L245.7,321.8 L246.3,321.8 L246.9,321.8 L247.5,321.8 L248.1,321.8 L248.7,321.8 L249.3,321.8 L249.9,321.8 L250.5,321.8 L251.1,321.8 L251.7,321.8 L252.3,321.8 L252.9,321.8 L253.5,321.8 L254.1,321.8 L254.7,321.8 L255.3,321.8 L255.9,321.7 L256.5,321.7 L257.1,320.2 L257.7,321.8 L258.3,321.7 L258.9,321.7 L259.5,320.6 L260.1,321.7 L260.7,320.5 L261.3,321.8 L261.9,321.7 L262.5,321.8 L263.1,321.7 L263.7,321.8 L264.3,321.8 L264.9,321.8 L265.5,321.8 L266.1,321.8 L266.7,321.8 L267.3,321.8 L267.9,321.8 L268.5,321.8 L269.1,321.8 L269.7,321.7 L270.3,321.8 L270.9,321.8 L271.5,321.8 L272.1,321.7 L272.7,321.8 L273.3,321.7 L273.9,321.8 L274.5,321.8 L275.1,321.8 L275.7,321.8 L276.3,321.8 L276.9,321.7 L277.5,320.1 L278.1,321.8 L278.7,321.8" fill="none" stroke="#888" stroke-width="0.9" stroke-linejoin="round" clip-path="url(#c2)"/>
<path d="M127.5,308.8 L128.1,308.7 L128.7,307.8 L129.3,303.7 L129.9,299.9 L130.5,296.1 L131.1,297.0 L131.7,294.6 L132.3,293.6 L132.9,292.0 L133.5,288.1 L134.1,290.2 L134.7,287.1 L135.3,287.7 L135.9,290.0 L136.5,285.8 L137.1,284.7 L137.7,285.6 L138.3,283.4 L138.9,283.4 L139.5,280.2 L140.1,279.8 L140.7,277.9 L141.3,282.5 L141.9,282.4 L142.5,278.3 L143.1,278.3 L143.7,277.6 L144.3,283.1 L144.9,279.6 L145.5,277.2 L146.1,280.3 L146.7,286.1 L147.3,286.0 L147.9,289.6 L148.5,291.8 L149.1,294.5 L149.7,299.0 L150.3,301.5 L150.9,300.3 L151.5,300.8 L152.1,304.0 L152.7,305.0 L153.3,306.9 L153.9,309.7 L154.5,308.3 L155.1,308.2 L155.7,307.8 L156.3,310.5 L156.9,311.7 L157.5,312.8 L158.1,313.2 L158.7,313.5 L159.3,313.2 L159.9,313.5 L160.5,314.3 L161.1,313.8 L161.7,314.2 L162.3,314.8 L162.9,316.1 L163.5,315.4 L164.1,316.5 L164.7,316.9 L165.3,317.2 L165.9,316.5 L166.5,317.3 L167.1,317.6 L167.7,317.6 L168.3,318.2 L168.9,318.5 L169.5,318.7 L170.1,319.6 L170.7,320.1 L171.3,320.0 L171.9,320.4 L172.5,320.9 L173.1,321.3 L173.7,321.6 L174.3,321.7 L174.9,321.8 L175.5,321.8 L176.1,321.8 L176.7,321.8 L177.3,321.8 L177.9,321.8 L178.5,321.8 L179.1,321.8 L179.7,321.8 L180.3,321.7 L180.9,321.8 L181.5,321.8 L182.1,321.8 L182.7,321.8 L183.3,321.8 L183.9,321.8 L184.5,321.8 L185.1,320.1 L185.7,321.8 L186.3,321.8 L186.9,321.1 L187.5,321.8 L188.1,321.7 L188.7,321.7 L189.3,321.8 L189.9,321.8 L190.5,321.2 L191.1,321.8 L191.7,321.8 L192.3,321.8 L192.9,321.8 L193.5,321.8 L194.1,321.8 L194.7,321.8 L195.3,321.8 L195.9,321.8 L196.5,321.8 L197.1,321.8 L197.7,321.8 L198.3,321.8 L198.9,320.7 L199.5,321.8 L200.1,321.8 L200.7,321.8 L201.3,321.8 L201.9,321.8 L202.5,321.8 L203.1,320.9 L203.7,321.8 L204.3,321.7 L204.9,321.8 L205.5,321.8 L206.1,321.8 L206.7,321.8 L207.3,321.8 L207.9,321.8 L208.5,321.7 L209.1,321.7 L209.7,321.7 L210.3,321.8 L210.9,321.8 L211.5,321.8 L212.1,321.8 L212.7,321.8 L213.3,321.8 L213.9,321.8 L214.5,321.8 L215.1,321.8 L215.7,321.8 L216.3,321.8 L216.9,321.8 L217.5,321.7 L218.1,321.8 L218.7,321.8 L219.3,321.8 L219.9,321.8 L220.5,321.8 L221.1,321.8 L221.7,321.8 L222.3,321.8 L222.9,321.7 L223.5,321.8 L224.1,321.8 L224.7,321.7 L225.3,321.7 L225.9,321.8 L226.5,321.8 L227.1,321.8 L227.7,321.8 L228.3,321.8 L228.9,321.8 L229.5,321.8 L230.1,321.8 L230.7,321.8 L231.3,321.8 L231.9,321.8 L232.5,321.8 L233.1,321.8 L233.7,321.8 L234.3,321.8 L234.9,321.8 L235.5,321.8 L236.1,321.8 L236.7,321.8 L237.3,321.8 L237.9,321.8 L238.5,321.8 L239.1,321.8 L239.7,321.8 L240.3,321.8 L240.9,321.8 L241.5,321.8 L242.1,321.8 L242.7,321.8 L243.3,321.8 L243.9,321.8 L244.5,321.8 L245.1,320.4 L245.7,321.7 L246.3,321.8 L246.9,321.8 L247.5,321.8 L248.1,321.8 L248.7,321.8 L249.3,321.8 L249.9,321.8 L250.5,321.8 L251.1,321.8 L251.7,321.8 L252.3,321.8 L252.9,321.7 L253.5,321.8 L254.1,321.8 L254.7,321.8 L255.3,321.7 L255.9,321.8 L256.5,321.8 L257.1,321.8 L257.7,321.8 L258.3,321.8 L258.9,321.8 L259.5,321.7 L260.1,321.8 L260.7,321.8 L261.3,321.8 L261.9,321.7 L262.5,321.8 L263.1,321.8 L263.7,321.8 L264.3,321.8 L264.9,321.8 L265.5,321.8 L266.1,321.8 L266.7,321.8 L267.3,321.7 L267.9,321.8 L268.5,321.8 L269.1,321.8 L269.7,321.8 L270.3,321.8 L270.9,321.8 L271.5,321.8 L272.1,321.8 L272.7,321.8 L273.3,321.8 L273.9,321.8 L274.5,321.8 L275.1,321.8 L275.7,321.7 L276.3,321.8 L276.9,321.7 L277.5,321.8 L278.1,321.8 L278.7,321.8" fill="none" stroke="#1a1a1a" stroke-width="0.9" stroke-linejoin="round" stroke-dasharray="1.1 0.9" clip-path="url(#c2)"/>
<path d="M127.3,313.6 L127.9,313.8 L128.5,313.4 L129.1,309.5 L129.7,310.7 L130.3,309.2 L130.9,309.4 L131.5,306.3 L132.1,304.6 L132.7,304.1 L133.3,302.7 L133.9,302.2 L134.5,300.2 L135.1,300.4 L135.7,298.4 L136.3,295.6 L136.9,296.9 L137.5,295.2 L138.1,293.6 L138.7,294.7 L139.3,293.9 L139.9,289.3 L140.5,291.6 L141.1,287.7 L141.7,287.2 L142.3,286.0 L142.9,284.3 L143.5,284.1 L144.1,280.5 L144.7,280.3 L145.3,277.8 L145.9,278.0 L146.5,276.1 L147.1,277.1 L147.7,276.5 L148.3,272.5 L148.9,274.1 L149.5,268.5 L150.1,269.5 L150.7,274.7 L151.3,273.2 L151.9,277.8 L152.5,274.6 L153.1,272.6 L153.7,274.7 L154.3,272.9 L154.9,271.5 L155.5,274.8 L156.1,275.6 L156.7,272.0 L157.3,277.8 L157.9,281.3 L158.5,283.8 L159.1,285.8 L159.7,285.7 L160.3,289.0 L160.9,291.1 L161.5,291.1 L162.1,293.7 L162.7,295.8 L163.3,295.2 L163.9,297.9 L164.5,301.1 L165.1,301.6 L165.7,300.2 L166.3,303.9 L166.9,306.4 L167.5,304.8 L168.1,306.3 L168.7,308.1 L169.3,312.1 L169.9,312.4 L170.5,311.7 L171.1,313.1 L171.7,313.3 L172.3,312.9 L172.9,314.6 L173.5,316.3 L174.1,316.2 L174.7,318.0 L175.3,316.5 L175.9,316.7 L176.5,317.1 L177.1,317.6 L177.7,318.0 L178.3,319.2 L178.9,319.6 L179.5,319.5 L180.1,320.1 L180.7,320.3 L181.3,321.4 L181.9,321.6 L182.5,321.8 L183.1,321.8 L183.7,321.8 L184.3,321.8 L184.9,321.8 L185.5,321.7 L186.1,321.8 L186.7,321.8 L187.3,321.8 L187.9,321.8 L188.5,321.8 L189.1,321.8 L189.7,321.8 L190.3,321.8 L190.9,321.8 L191.5,321.7 L192.1,321.8 L192.7,321.8 L193.3,321.8 L193.9,321.8 L194.5,321.8 L195.1,321.8 L195.7,321.8 L196.3,321.8 L196.9,321.8 L197.5,321.8 L198.1,321.8 L198.7,321.8 L199.3,321.8 L199.9,321.8 L200.5,321.7 L201.1,321.8 L201.7,321.8 L202.3,321.8 L202.9,321.8 L203.5,321.8 L204.1,320.1 L204.7,321.8 L205.3,321.8 L205.9,321.8 L206.5,321.8 L207.1,321.8 L207.7,321.8 L208.3,321.8 L208.9,321.8 L209.5,321.8 L210.1,321.8 L210.7,321.8 L211.3,321.8 L211.9,321.8 L212.5,321.8 L213.1,321.7 L213.7,320.1 L214.3,321.8 L214.9,321.8 L215.5,321.8 L216.1,321.8 L216.7,321.8 L217.3,321.8 L217.9,321.8 L218.5,321.8 L219.1,321.8 L219.7,321.8 L220.3,321.8 L220.9,321.8 L221.5,321.8 L222.1,321.8 L222.7,321.8 L223.3,321.7 L223.9,321.8 L224.5,321.8 L225.1,320.3 L225.7,320.6 L226.3,321.8 L226.9,321.7 L227.5,321.8 L228.1,321.8 L228.7,321.8 L229.3,321.8 L229.9,321.8 L230.5,321.8 L231.1,321.7 L231.7,321.8 L232.3,321.8 L232.9,321.8 L233.5,321.8 L234.1,321.8 L234.7,321.8 L235.3,320.1 L235.9,321.8 L236.5,321.8 L237.1,321.8 L237.7,321.8 L238.3,321.8 L238.9,321.7 L239.5,320.6 L240.1,321.8 L240.7,321.8 L241.3,321.8 L241.9,321.8 L242.5,321.8 L243.1,321.7 L243.7,321.8 L244.3,321.8 L244.9,321.8 L245.5,321.8 L246.1,321.8 L246.7,321.8 L247.3,321.8 L247.9,321.8 L248.5,321.8 L249.1,321.8 L249.7,321.8 L250.3,321.8 L250.9,320.4 L251.5,321.8 L252.1,321.8 L252.7,321.8 L253.3,321.7 L253.9,321.8 L254.5,321.8 L255.1,321.8 L255.7,321.8 L256.3,321.8 L256.9,321.8 L257.5,321.8 L258.1,321.8 L258.7,321.8 L259.3,321.8 L259.9,321.8 L260.5,321.8 L261.1,321.8 L261.7,321.8 L262.3,321.8 L262.9,321.8 L263.5,321.8 L264.1,321.7 L264.7,321.8 L265.3,321.8 L265.9,321.8 L266.5,321.8 L267.1,321.0 L267.7,320.5 L268.3,321.8 L268.9,321.8 L269.5,321.8 L270.1,321.8 L270.7,321.8 L271.3,321.8 L271.9,321.8 L272.5,321.8 L273.1,321.8 L273.7,321.8 L274.3,321.7 L274.9,321.8 L275.5,321.8 L276.1,321.8 L276.7,321.8 L277.3,321.8 L277.9,321.8 L278.5,321.8" fill="none" stroke="#000" stroke-width="1.6" stroke-linejoin="round" clip-path="url(#c2)"/>
<line x1="125.00" y1="321.50" x2="127.00" y2="321.50" stroke="#222" stroke-width="0.8" />
<line x1="125.70" y1="318.28" x2="127.00" y2="318.28" stroke="#222" stroke-width="0.8" />
<line x1="125.70" y1="315.06" x2="127.00" y2="315.06" stroke="#222" stroke-width="0.8" />
<line x1="125.70" y1="311.84" x2="127.00" y2="311.84" stroke="#222" stroke-width="0.8" />
<line x1="125.70" y1="308.62" x2="127.00" y2="308.62" stroke="#222" stroke-width="0.8" />
<line x1="125.00" y1="305.40" x2="127.00" y2="305.40" stroke="#222" stroke-width="0.8" />
<line x1="125.70" y1="302.18" x2="127.00" y2="302.18" stroke="#222" stroke-width="0.8" />
<line x1="125.70" y1="298.96" x2="127.00" y2="298.96" stroke="#222" stroke-width="0.8" />
<line x1="125.70" y1="295.74" x2="127.00" y2="295.74" stroke="#222" stroke-width="0.8" />
<line x1="125.70" y1="292.52" x2="127.00" y2="292.52" stroke="#222" stroke-width="0.8" />
<line x1="125.00" y1="289.30" x2="127.00" y2="289.30" stroke="#222" stroke-width="0.8" />
<line x1="125.70" y1="286.08" x2="127.00" y2="286.08" stroke="#222" stroke-width="0.8" />
<line x1="125.70" y1="282.86" x2="127.00" y2="282.86" stroke="#222" stroke-width="0.8" />
<line x1="125.70" y1="279.64" x2="127.00" y2="279.64" stroke="#222" stroke-width="0.8" />
<line x1="125.70" y1="276.42" x2="127.00" y2="276.42" stroke="#222" stroke-width="0.8" />
<line x1="125.00" y1="273.20" x2="127.00" y2="273.20" stroke="#222" stroke-width="0.8" />
<line x1="125.70" y1="269.98" x2="127.00" y2="269.98" stroke="#222" stroke-width="0.8" />
<line x1="125.70" y1="266.76" x2="127.00" y2="266.76" stroke="#222" stroke-width="0.8" />
<line x1="125.70" y1="263.54" x2="127.00" y2="263.54" stroke="#222" stroke-width="0.8" />
<line x1="125.70" y1="260.32" x2="127.00" y2="260.32" stroke="#222" stroke-width="0.8" />
<line x1="125.00" y1="257.10" x2="127.00" y2="257.10" stroke="#222" stroke-width="0.8" />
<line x1="125.70" y1="253.88" x2="127.00" y2="253.88" stroke="#222" stroke-width="0.8" />
<line x1="125.70" y1="250.66" x2="127.00" y2="250.66" stroke="#222" stroke-width="0.8" />
<line x1="125.70" y1="247.44" x2="127.00" y2="247.44" stroke="#222" stroke-width="0.8" />
<line x1="125.70" y1="244.22" x2="127.00" y2="244.22" stroke="#222" stroke-width="0.8" />
<line x1="125.00" y1="241.00" x2="127.00" y2="241.00" stroke="#222" stroke-width="0.8" />
<text x="121.70" y="321.50" font-size="4.8" text-anchor="middle" fill="#222" transform="rotate(-90 121.70 321.50)" stroke="#222" stroke-width="0.25" >0</text>
<text x="121.70" y="305.40" font-size="4.8" text-anchor="middle" fill="#222" transform="rotate(-90 121.70 305.40)" stroke="#222" stroke-width="0.25" >40</text>
<text x="121.70" y="289.30" font-size="4.8" text-anchor="middle" fill="#222" transform="rotate(-90 121.70 289.30)" stroke="#222" stroke-width="0.25" >80</text>
<text x="121.70" y="273.20" font-size="4.8" text-anchor="middle" fill="#222" transform="rotate(-90 121.70 273.20)" stroke="#222" stroke-width="0.25" >120</text>
<text x="121.70" y="257.10" font-size="4.8" text-anchor="middle" fill="#222" transform="rotate(-90 121.70 257.10)" stroke="#222" stroke-width="0.25" >160</text>
<text x="121.70" y="241.00" font-size="4.8" text-anchor="middle" fill="#222" transform="rotate(-90 121.70 241.00)" stroke="#222" stroke-width="0.25" >200</text>
<text x="115.60" y="282.06" font-size="5.0" text-anchor="middle" textLength="17.5" lengthAdjust="spacingAndGlyphs" fill="#222" transform="rotate(-90 115.60 282.06)" stroke="#222" stroke-width="0.25" >Counts</text>
<line x1="127.00" y1="321.50" x2="127.00" y2="319.50" stroke="#222" stroke-width="0.8" />
<line x1="138.48" y1="321.50" x2="138.48" y2="320.20" stroke="#222" stroke-width="0.8" />
<line x1="145.19" y1="321.50" x2="145.19" y2="320.20" stroke="#222" stroke-width="0.8" />
<line x1="149.95" y1="321.50" x2="149.95" y2="320.20" stroke="#222" stroke-width="0.8" />
<line x1="153.65" y1="321.50" x2="153.65" y2="320.20" stroke="#222" stroke-width="0.8" />
<line x1="156.67" y1="321.50" x2="156.67" y2="320.20" stroke="#222" stroke-width="0.8" />
<line x1="159.22" y1="321.50" x2="159.22" y2="320.20" stroke="#222" stroke-width="0.8" />
<line x1="161.43" y1="321.50" x2="161.43" y2="320.20" stroke="#222" stroke-width="0.8" />
<line x1="163.38" y1="321.50" x2="163.38" y2="320.20" stroke="#222" stroke-width="0.8" />
<line x1="165.12" y1="321.50" x2="165.12" y2="319.50" stroke="#222" stroke-width="0.8" />
<line x1="176.60" y1="321.50" x2="176.60" y2="320.20" stroke="#222" stroke-width="0.8" />
<line x1="183.32" y1="321.50" x2="183.32" y2="320.20" stroke="#222" stroke-width="0.8" />
<line x1="188.08" y1="321.50" x2="188.08" y2="320.20" stroke="#222" stroke-width="0.8" />
<line x1="191.77" y1="321.50" x2="191.77" y2="320.20" stroke="#222" stroke-width="0.8" />
<line x1="194.79" y1="321.50" x2="194.79" y2="320.20" stroke="#222" stroke-width="0.8" />
<line x1="197.34" y1="321.50" x2="197.34" y2="320.20" stroke="#222" stroke-width="0.8" />
<line x1="199.56" y1="321.50" x2="199.56" y2="320.20" stroke="#222" stroke-width="0.8" />
<line x1="201.51" y1="321.50" x2="201.51" y2="320.20" stroke="#222" stroke-width="0.8" />
<line x1="203.25" y1="321.50" x2="203.25" y2="319.50" stroke="#222" stroke-width="0.8" />
<line x1="214.73" y1="321.50" x2="214.73" y2="320.20" stroke="#222" stroke-width="0.8" />
<line x1="221.44" y1="321.50" x2="221.44" y2="320.20" stroke="#222" stroke-width="0.8" />
<line x1="226.20" y1="321.50" x2="226.20" y2="320.20" stroke="#222" stroke-width="0.8" />
<line x1="229.90" y1="321.50" x2="229.90" y2="320.20" stroke="#222" stroke-width="0.8" />
<line x1="232.92" y1="321.50" x2="232.92" y2="320.20" stroke="#222" stroke-width="0.8" />
<line x1="235.47" y1="321.50" x2="235.47" y2="320.20" stroke="#222" stroke-width="0.8" />
<line x1="237.68" y1="321.50" x2="237.68" y2="320.20" stroke="#222" stroke-width="0.8" />
<line x1="239.63" y1="321.50" x2="239.63" y2="320.20" stroke="#222" stroke-width="0.8" />
<line x1="241.38" y1="321.50" x2="241.38" y2="319.50" stroke="#222" stroke-width="0.8" />
<line x1="252.85" y1="321.50" x2="252.85" y2="320.20" stroke="#222" stroke-width="0.8" />
<line x1="259.57" y1="321.50" x2="259.57" y2="320.20" stroke="#222" stroke-width="0.8" />
<line x1="264.33" y1="321.50" x2="264.33" y2="320.20" stroke="#222" stroke-width="0.8" />
<line x1="268.02" y1="321.50" x2="268.02" y2="320.20" stroke="#222" stroke-width="0.8" />
<line x1="271.04" y1="321.50" x2="271.04" y2="320.20" stroke="#222" stroke-width="0.8" />
<line x1="273.59" y1="321.50" x2="273.59" y2="320.20" stroke="#222" stroke-width="0.8" />
<line x1="275.81" y1="321.50" x2="275.81" y2="320.20" stroke="#222" stroke-width="0.8" />
<line x1="277.76" y1="321.50" x2="277.76" y2="320.20" stroke="#222" stroke-width="0.8" />
<text x="123.20" y="330.90" font-size="5.3" fill="#222" stroke="#222" stroke-width="0.12" >10</text>
<text x="128.90" y="328.00" font-size="4.7" fill="#222" stroke="#222" stroke-width="0.1" >0</text>
<text x="161.32" y="330.90" font-size="5.3" fill="#222" stroke="#222" stroke-width="0.12" >10</text>
<text x="167.03" y="328.00" font-size="4.7" fill="#222" stroke="#222" stroke-width="0.1" >1</text>
<text x="199.45" y="330.90" font-size="5.3" fill="#222" stroke="#222" stroke-width="0.12" >10</text>
<text x="205.15" y="328.00" font-size="4.7" fill="#222" stroke="#222" stroke-width="0.1" >2</text>
<text x="237.57" y="330.90" font-size="5.3" fill="#222" stroke="#222" stroke-width="0.12" >10</text>
<text x="243.28" y="328.00" font-size="4.7" fill="#222" stroke="#222" stroke-width="0.1" >3</text>
<text x="275.70" y="330.90" font-size="5.3" fill="#222" stroke="#222" stroke-width="0.12" >10</text>
<text x="281.40" y="328.00" font-size="4.7" fill="#222" stroke="#222" stroke-width="0.1" >4</text>
<rect x="127.00" y="241.00" width="152.50" height="80.50" fill="none" stroke="#4a4a4a" stroke-width="1" />
<path d="M309.1,316.1 L309.7,316.8 L310.3,317.1 L310.9,317.4 L311.5,314.2 L312.1,314.1 L312.7,313.2 L313.3,313.1 L313.9,312.6 L314.5,310.7 L315.1,311.8 L315.7,309.5 L316.3,311.4 L316.9,309.5 L317.5,310.8 L318.1,310.8 L318.7,309.7 L319.3,308.5 L319.9,307.5 L320.5,306.1 L321.1,308.7 L321.7,306.6 L322.3,307.6 L322.9,304.8 L323.5,304.3 L324.1,302.7 L324.7,303.0 L325.3,300.2 L325.9,302.7 L326.5,301.0 L327.1,300.2 L327.7,298.9 L328.3,293.7 L328.9,290.9 L329.5,295.9 L330.1,293.5 L330.7,289.5 L331.3,287.9 L331.9,290.2 L332.5,291.7 L333.1,288.6 L333.7,285.2 L334.3,287.0 L334.9,286.2 L335.5,280.5 L336.1,284.4 L336.7,279.2 L337.3,279.8 L337.9,280.2 L338.5,279.7 L339.1,277.7 L339.7,283.8 L340.3,281.9 L340.9,287.7 L341.5,282.7 L342.1,286.8 L342.7,289.2 L343.3,291.1 L343.9,294.0 L344.5,294.8 L345.1,300.0 L345.7,300.5 L346.3,303.7 L346.9,300.8 L347.5,305.5 L348.1,307.6 L348.7,310.3 L349.3,311.2 L349.9,308.7 L350.5,309.2 L351.1,311.3 L351.7,312.8 L352.3,315.7 L352.9,312.7 L353.5,314.8 L354.1,316.0 L354.7,315.5 L355.3,315.0 L355.9,316.1 L356.5,317.8 L357.1,318.3 L357.7,317.9 L358.3,318.3 L358.9,319.1 L359.5,317.9 L360.1,319.6 L360.7,317.7 L361.3,319.7 L361.9,317.7 L362.5,319.6 L363.1,319.0 L363.7,318.2 L364.3,319.4 L364.9,319.7 L365.5,320.1 L366.1,320.2 L366.7,320.1 L367.3,320.8 L367.9,321.2 L368.5,320.9 L369.1,320.3 L369.7,321.4 L370.3,321.8 L370.9,321.8 L371.5,321.7 L372.1,322.0 L372.7,322.1 L373.3,322.2 L373.9,322.2 L374.5,322.3 L375.1,322.3 L375.7,322.3 L376.3,322.3 L376.9,322.2 L377.5,322.3 L378.1,322.3 L378.7,322.2 L379.3,322.3 L379.9,322.3 L380.5,322.3 L381.1,322.3 L381.7,322.3 L382.3,322.3 L382.9,322.3 L383.5,322.3 L384.1,322.3 L384.7,322.3 L385.3,322.3 L385.9,322.3 L386.5,320.8 L387.1,322.3 L387.7,322.3 L388.3,322.3 L388.9,322.3 L389.5,322.3 L390.1,322.3 L390.7,322.3 L391.3,322.3 L391.9,322.3 L392.5,322.2 L393.1,322.3 L393.7,322.3 L394.3,322.3 L394.9,322.3 L395.5,322.3 L396.1,322.3 L396.7,322.3 L397.3,322.3 L397.9,322.3 L398.5,322.3 L399.1,322.3 L399.7,322.3 L400.3,322.3 L400.9,322.3 L401.5,322.3 L402.1,322.3 L402.7,322.3 L403.3,322.3 L403.9,322.2 L404.5,322.3 L405.1,322.3 L405.7,322.2 L406.3,322.3 L406.9,322.3 L407.5,322.3 L408.1,322.3 L408.7,322.3 L409.3,322.3 L409.9,322.3 L410.5,322.2 L411.1,320.9 L411.7,322.3 L412.3,322.3 L412.9,322.3 L413.5,322.3 L414.1,322.3 L414.7,322.3 L415.3,322.3 L415.9,322.2 L416.5,322.3 L417.1,322.3 L417.7,322.3 L418.3,322.3 L418.9,322.3 L419.5,322.3 L420.1,322.2 L420.7,322.3 L421.3,322.3 L421.9,322.3 L422.5,321.0 L423.1,322.3 L423.7,322.3 L424.3,322.3 L424.9,322.3 L425.5,322.2 L426.1,322.3 L426.7,322.2 L427.3,322.3 L427.9,322.3 L428.5,322.3 L429.1,322.3 L429.7,322.3 L430.3,322.3 L430.9,322.3 L431.5,322.3 L432.1,322.2 L432.7,322.3 L433.3,321.1 L433.9,322.3 L434.5,322.3 L435.1,322.3 L435.7,322.3 L436.3,322.3 L436.9,322.3 L437.5,322.3 L438.1,322.3 L438.7,322.3 L439.3,322.3 L439.9,322.3 L440.5,322.3 L441.1,322.2 L441.7,322.3 L442.3,322.3 L442.9,322.3 L443.5,322.3 L444.1,322.3 L444.7,322.3 L445.3,322.3 L445.9,322.3 L446.5,322.3 L447.1,322.3 L447.7,322.3 L448.3,322.2 L448.9,322.2 L449.5,322.3 L450.1,322.3 L450.7,321.2 L451.3,322.3 L451.9,322.2 L452.5,322.3 L453.1,322.3 L453.7,322.2 L454.3,322.2 L454.9,322.3 L455.5,322.3 L456.1,321.4 L456.7,321.2 L457.3,322.3 L457.9,322.3 L458.5,322.3 L459.1,322.3 L459.7,322.3 L460.3,322.2 L460.9,322.3 L461.5,322.3 L462.1,322.3" fill="none" stroke="#999" stroke-width="0.9" stroke-linejoin="round" stroke-dasharray="1.1 0.9" clip-path="url(#c3)"/>
<path d="M309.1,317.4 L309.7,317.3 L310.3,317.1 L310.9,317.4 L311.5,316.3 L312.1,314.6 L312.7,315.6 L313.3,314.4 L313.9,313.8 L314.5,313.5 L315.1,313.2 L315.7,313.7 L316.3,312.9 L316.9,312.1 L317.5,311.2 L318.1,310.7 L318.7,311.6 L319.3,312.2 L319.9,310.0 L320.5,308.9 L321.1,308.8 L321.7,305.3 L322.3,306.0 L322.9,306.4 L323.5,306.5 L324.1,304.7 L324.7,305.4 L325.3,304.4 L325.9,303.8 L326.5,299.1 L327.1,300.0 L327.7,295.2 L328.3,292.7 L328.9,295.8 L329.5,294.5 L330.1,296.2 L330.7,294.3 L331.3,289.4 L331.9,292.1 L332.5,288.1 L333.1,289.5 L333.7,288.0 L334.3,287.3 L334.9,287.4 L335.5,286.3 L336.1,285.5 L336.7,285.1 L337.3,283.5 L337.9,280.7 L338.5,280.9 L339.1,282.6 L339.7,286.1 L340.3,286.2 L340.9,292.3 L341.5,286.4 L342.1,287.1 L342.7,292.9 L343.3,296.3 L343.9,295.9 L344.5,297.1 L345.1,300.4 L345.7,300.8 L346.3,301.0 L346.9,302.8 L347.5,306.2 L348.1,305.3 L348.7,309.2 L349.3,310.3 L349.9,310.0 L350.5,312.2 L351.1,313.3 L351.7,316.2 L352.3,315.5 L352.9,314.7 L353.5,314.9 L354.1,315.0 L354.7,316.9 L355.3,316.3 L355.9,317.2 L356.5,318.3 L357.1,317.7 L357.7,318.3 L358.3,317.3 L358.9,317.8 L359.5,318.2 L360.1,318.9 L360.7,319.4 L361.3,318.8 L361.9,319.1 L362.5,319.2 L363.1,318.6 L363.7,318.8 L364.3,318.4 L364.9,320.9 L365.5,320.1 L366.1,320.2 L366.7,320.1 L367.3,320.6 L367.9,320.5 L368.5,321.2 L369.1,321.2 L369.7,321.7 L370.3,321.7 L370.9,321.7 L371.5,322.0 L372.1,322.1 L372.7,322.1 L373.3,320.5 L373.9,322.3 L374.5,320.6 L375.1,322.3 L375.7,322.3 L376.3,322.3 L376.9,322.2 L377.5,322.3 L378.1,322.3 L378.7,322.3 L379.3,322.3 L379.9,322.2 L380.5,322.3 L381.1,322.3 L381.7,322.3 L382.3,322.3 L382.9,322.3 L383.5,322.3 L384.1,322.3 L384.7,322.3 L385.3,322.3 L385.9,322.3 L386.5,322.3 L387.1,322.3 L387.7,322.2 L388.3,322.3 L388.9,322.3 L389.5,322.2 L390.1,322.2 L390.7,322.3 L391.3,322.3 L391.9,322.3 L392.5,322.3 L393.1,322.3 L393.7,322.3 L394.3,322.3 L394.9,322.3 L395.5,322.3 L396.1,322.3 L396.7,321.3 L397.3,322.3 L397.9,322.3 L398.5,322.3 L399.1,322.3 L399.7,322.3 L400.3,322.3 L400.9,322.3 L401.5,320.9 L402.1,322.3 L402.7,322.3 L403.3,322.3 L403.9,322.3 L404.5,322.3 L405.1,322.3 L405.7,322.3 L406.3,322.3 L406.9,322.3 L407.5,322.3 L408.1,322.3 L408.7,322.2 L409.3,322.3 L409.9,322.3 L410.5,322.3 L411.1,322.3 L411.7,322.3 L412.3,322.3 L412.9,322.3 L413.5,322.3 L414.1,322.3 L414.7,320.8 L415.3,322.3 L415.9,322.2 L416.5,322.2 L417.1,322.3 L417.7,322.3 L418.3,322.3 L418.9,322.3 L419.5,322.2 L420.1,322.3 L420.7,320.7 L421.3,322.3 L421.9,322.3 L422.5,322.3 L423.1,322.3 L423.7,322.3 L424.3,322.2 L424.9,322.3 L425.5,322.3 L426.1,322.3 L426.7,322.3 L427.3,322.2 L427.9,322.3 L428.5,322.3 L429.1,322.3 L429.7,322.3 L430.3,322.3 L430.9,320.8 L431.5,322.2 L432.1,322.3 L432.7,322.3 L433.3,322.3 L433.9,322.3 L434.5,322.2 L435.1,322.3 L435.7,322.3 L436.3,322.3 L436.9,322.3 L437.5,322.3 L438.1,322.3 L438.7,322.3 L439.3,322.3 L439.9,322.3 L440.5,322.3 L441.1,322.3 L441.7,322.3 L442.3,322.3 L442.9,322.3 L443.5,320.6 L444.1,322.3 L444.7,322.3 L445.3,322.2 L445.9,322.3 L446.5,322.3 L447.1,322.3 L447.7,322.2 L448.3,322.3 L448.9,322.3 L449.5,322.2 L450.1,322.3 L450.7,322.3 L451.3,321.3 L451.9,322.2 L452.5,322.3 L453.1,322.3 L453.7,322.3 L454.3,322.3 L454.9,322.3 L455.5,322.3 L456.1,322.3 L456.7,322.3 L457.3,321.4 L457.9,322.2 L458.5,322.3 L459.1,322.3 L459.7,322.3 L460.3,320.8 L460.9,322.3 L461.5,322.3 L462.1,322.3" fill="none" stroke="#555" stroke-width="0.9" stroke-linejoin="round" stroke-dasharray="1.1 0.9" clip-path="url(#c3)"/>
<path d="M309.1,322.3 L309.7,322.3 L310.3,322.3 L310.9,322.2 L311.5,322.3 L312.1,322.3 L312.7,322.2 L313.3,322.3 L313.9,322.3 L314.5,322.2 L315.1,322.2 L315.7,322.3 L316.3,322.2 L316.9,321.6 L317.5,322.3 L318.1,322.3 L318.7,322.3 L319.3,322.3 L319.9,322.3 L320.5,322.3 L321.1,322.3 L321.7,322.2 L322.3,322.3 L322.9,322.3 L323.5,322.3 L324.1,322.3 L324.7,322.2 L325.3,322.2 L325.9,322.2 L326.5,322.3 L327.1,322.3 L327.7,322.3 L328.3,322.3 L328.9,322.3 L329.5,322.3 L330.1,322.3 L330.7,322.3 L331.3,322.3 L331.9,322.3 L332.5,322.3 L333.1,322.3 L333.7,322.3 L334.3,322.3 L334.9,322.3 L335.5,322.1 L336.1,321.9 L336.7,321.4 L337.3,320.0 L337.9,319.3 L338.5,319.3 L339.1,317.6 L339.7,318.1 L340.3,317.6 L340.9,317.0 L341.5,315.8 L342.1,312.1 L342.7,313.3 L343.3,310.2 L343.9,310.8 L344.5,309.0 L345.1,306.8 L345.7,303.7 L346.3,296.0 L346.9,301.3 L347.5,296.9 L348.1,294.4 L348.7,288.3 L349.3,286.2 L349.9,282.6 L350.5,282.5 L351.1,276.6 L351.7,279.8 L352.3,283.2 L352.9,274.5 L353.5,275.9 L354.1,276.2 L354.7,279.1 L355.3,278.8 L355.9,276.1 L356.5,276.2 L357.1,275.7 L357.7,275.7 L358.3,277.1 L358.9,278.0 L359.5,280.0 L360.1,283.9 L360.7,284.2 L361.3,287.8 L361.9,289.0 L362.5,292.8 L363.1,291.0 L363.7,292.8 L364.3,296.4 L364.9,299.7 L365.5,301.4 L366.1,304.7 L366.7,302.8 L367.3,306.5 L367.9,308.2 L368.5,308.9 L369.1,309.7 L369.7,310.1 L370.3,309.6 L370.9,309.3 L371.5,311.1 L372.1,312.1 L372.7,313.3 L373.3,313.7 L373.9,313.6 L374.5,314.8 L375.1,316.2 L375.7,314.6 L376.3,314.4 L376.9,316.0 L377.5,316.2 L378.1,316.9 L378.7,317.2 L379.3,318.3 L379.9,318.8 L380.5,319.9 L381.1,317.8 L381.7,317.7 L382.3,318.6 L382.9,318.8 L383.5,319.9 L384.1,319.9 L384.7,320.3 L385.3,318.9 L385.9,319.2 L386.5,319.5 L387.1,319.7 L387.7,320.5 L388.3,320.4 L388.9,321.0 L389.5,321.0 L390.1,321.6 L390.7,321.4 L391.3,321.8 L391.9,321.8 L392.5,322.1 L393.1,321.3 L393.7,322.2 L394.3,322.3 L394.9,322.3 L395.5,322.2 L396.1,322.3 L396.7,322.2 L397.3,322.3 L397.9,322.3 L398.5,322.2 L399.1,322.3 L399.7,322.3 L400.3,322.3 L400.9,322.3 L401.5,322.3 L402.1,322.3 L402.7,322.3 L403.3,322.3 L403.9,322.3 L404.5,322.3 L405.1,322.3 L405.7,322.2 L406.3,322.3 L406.9,320.6 L407.5,322.3 L408.1,322.3 L408.7,321.0 L409.3,322.3 L409.9,322.3 L410.5,322.2 L411.1,322.3 L411.7,322.3 L412.3,322.3 L412.9,322.3 L413.5,322.3 L414.1,322.3 L414.7,322.3 L415.3,322.2 L415.9,322.2 L416.5,322.3 L417.1,322.2 L417.7,322.3 L418.3,320.7 L418.9,322.3 L419.5,322.3 L420.1,322.3 L420.7,322.3 L421.3,322.3 L421.9,322.3 L422.5,322.3 L423.1,321.3 L423.7,322.3 L424.3,322.3 L424.9,322.3 L425.5,322.3 L426.1,322.3 L426.7,322.3 L427.3,322.3 L427.9,322.3 L428.5,322.3 L429.1,320.8 L429.7,322.3 L430.3,322.3 L430.9,322.3 L431.5,322.3 L432.1,322.3 L432.7,322.3 L433.3,322.3 L433.9,322.3 L434.5,322.3 L435.1,322.3 L435.7,322.3 L436.3,322.3 L436.9,322.3 L437.5,322.3 L438.1,322.3 L438.7,322.3 L439.3,322.3 L439.9,322.3 L440.5,322.3 L441.1,322.3 L441.7,322.3 L442.3,322.3 L442.9,322.3 L443.5,320.7 L444.1,322.3 L444.7,322.3 L445.3,322.3 L445.9,322.2 L446.5,322.3 L447.1,322.3 L447.7,322.3 L448.3,322.3 L448.9,322.3 L449.5,322.3 L450.1,322.3 L450.7,322.2 L451.3,322.3 L451.9,322.3 L452.5,322.3 L453.1,321.5 L453.7,322.3 L454.3,322.2 L454.9,322.3 L455.5,322.2 L456.1,322.3 L456.7,322.3 L457.3,322.3 L457.9,322.3 L458.5,322.3 L459.1,322.3 L459.7,322.3 L460.3,322.3 L460.9,322.2 L461.5,322.3 L462.1,322.3" fill="none" stroke="#888" stroke-width="0.9" stroke-linejoin="round" clip-path="url(#c3)"/>
<path d="M309.1,322.3 L309.7,322.3 L310.3,322.3 L310.9,321.5 L311.5,322.2 L312.1,322.3 L312.7,322.2 L313.3,322.3 L313.9,322.3 L314.5,322.2 L315.1,322.3 L315.7,322.3 L316.3,322.3 L316.9,322.3 L317.5,322.3 L318.1,322.3 L318.7,322.3 L319.3,322.3 L319.9,322.3 L320.5,322.3 L321.1,322.3 L321.7,322.3 L322.3,322.3 L322.9,322.3 L323.5,322.3 L324.1,322.3 L324.7,322.3 L325.3,320.8 L325.9,322.3 L326.5,322.3 L327.1,322.3 L327.7,322.3 L328.3,322.3 L328.9,320.9 L329.5,322.3 L330.1,322.3 L330.7,322.3 L331.3,322.3 L331.9,322.3 L332.5,322.3 L333.1,322.3 L333.7,322.3 L334.3,322.3 L334.9,322.3 L335.5,322.3 L336.1,321.8 L336.7,321.3 L337.3,321.0 L337.9,320.2 L338.5,319.3 L339.1,318.6 L339.7,318.1 L340.3,317.2 L340.9,318.3 L341.5,317.7 L342.1,316.4 L342.7,316.8 L343.3,314.1 L343.9,314.4 L344.5,315.3 L345.1,313.1 L345.7,310.2 L346.3,309.2 L346.9,307.8 L347.5,307.9 L348.1,305.0 L348.7,303.0 L349.3,301.0 L349.9,298.7 L350.5,296.0 L351.1,292.6 L351.7,291.2 L352.3,285.9 L352.9,284.4 L353.5,281.3 L354.1,283.9 L354.7,280.2 L355.3,277.2 L355.9,281.6 L356.5,272.8 L357.1,273.3 L357.7,271.8 L358.3,270.2 L358.9,278.5 L359.5,271.3 L360.1,272.5 L360.7,273.7 L361.3,276.5 L361.9,276.0 L362.5,276.1 L363.1,283.1 L363.7,283.1 L364.3,284.0 L364.9,287.8 L365.5,289.6 L366.1,291.7 L366.7,294.5 L367.3,295.8 L367.9,294.7 L368.5,298.8 L369.1,299.0 L369.7,301.1 L370.3,305.4 L370.9,305.8 L371.5,303.0 L372.1,304.2 L372.7,306.7 L373.3,307.1 L373.9,307.6 L374.5,308.3 L375.1,308.7 L375.7,309.6 L376.3,314.4 L376.9,313.7 L377.5,313.9 L378.1,314.2 L378.7,315.7 L379.3,316.0 L379.9,317.5 L380.5,315.9 L381.1,318.2 L381.7,318.7 L382.3,319.4 L382.9,318.0 L383.5,319.1 L384.1,319.0 L384.7,320.3 L385.3,320.9 L385.9,321.2 L386.5,321.7 L387.1,322.2 L387.7,322.3 L388.3,322.3 L388.9,322.3 L389.5,322.3 L390.1,322.3 L390.7,322.2 L391.3,321.4 L391.9,322.3 L392.5,322.3 L393.1,322.3 L393.7,322.3 L394.3,322.3 L394.9,322.3 L395.5,322.3 L396.1,322.2 L396.7,322.3 L397.3,322.3 L397.9,322.3 L398.5,322.3 L399.1,322.3 L399.7,322.3 L400.3,322.3 L400.9,322.3 L401.5,322.3 L402.1,322.3 L402.7,322.3 L403.3,322.3 L403.9,322.3 L404.5,322.3 L405.1,322.3 L405.7,321.8 L406.3,322.3 L406.9,322.3 L407.5,322.3 L408.1,322.2 L408.7,322.2 L409.3,322.3 L409.9,322.2 L410.5,322.3 L411.1,322.3 L411.7,322.3 L412.3,322.3 L412.9,322.3 L413.5,322.3 L414.1,322.2 L414.7,322.3 L415.3,320.9 L415.9,322.3 L416.5,322.3 L417.1,322.3 L417.7,322.3 L418.3,322.3 L418.9,322.3 L419.5,320.8 L420.1,322.3 L420.7,322.2 L421.3,322.2 L421.9,322.3 L422.5,322.3 L423.1,322.2 L423.7,322.2 L424.3,322.3 L424.9,322.3 L425.5,322.3 L426.1,322.3 L426.7,322.3 L427.3,322.3 L427.9,322.3 L428.5,322.3 L429.1,322.3 L429.7,322.3 L430.3,322.3 L430.9,322.3 L431.5,322.3 L432.1,322.3 L432.7,322.3 L433.3,322.3 L433.9,322.2 L434.5,322.2 L435.1,322.3 L435.7,322.3 L436.3,322.2 L436.9,321.3 L437.5,322.3 L438.1,322.3 L438.7,322.2 L439.3,322.3 L439.9,322.3 L440.5,322.3 L441.1,322.3 L441.7,322.3 L442.3,322.3 L442.9,322.3 L443.5,322.3 L444.1,322.2 L444.7,321.3 L445.3,322.3 L445.9,322.3 L446.5,322.3 L447.1,322.3 L447.7,322.3 L448.3,322.3 L448.9,322.3 L449.5,322.3 L450.1,322.3 L450.7,322.3 L451.3,322.3 L451.9,322.3 L452.5,321.3 L453.1,322.3 L453.7,320.8 L454.3,321.6 L454.9,322.3 L455.5,322.3 L456.1,322.2 L456.7,322.2 L457.3,322.3 L457.9,322.3 L458.5,322.3 L459.1,322.3 L459.7,322.3 L460.3,322.3 L460.9,322.3 L461.5,322.3 L462.1,322.3" fill="none" stroke="#000" stroke-width="1.6" stroke-linejoin="round" clip-path="url(#c3)"/>
<line x1="306.50" y1="322.00" x2="308.50" y2="322.00" stroke="#222" stroke-width="0.8" />
<line x1="307.20" y1="318.70" x2="308.50" y2="318.70" stroke="#222" stroke-width="0.8" />
<line x1="307.20" y1="315.40" x2="308.50" y2="315.40" stroke="#222" stroke-width="0.8" />
<line x1="307.20" y1="312.10" x2="308.50" y2="312.10" stroke="#222" stroke-width="0.8" />
<line x1="307.20" y1="308.80" x2="308.50" y2="308.80" stroke="#222" stroke-width="0.8" />
<line x1="306.50" y1="305.50" x2="308.50" y2="305.50" stroke="#222" stroke-width="0.8" />
<line x1="307.20" y1="302.20" x2="308.50" y2="302.20" stroke="#222" stroke-width="0.8" />
<line x1="307.20" y1="298.90" x2="308.50" y2="298.90" stroke="#222" stroke-width="0.8" />
<line x1="307.20" y1="295.60" x2="308.50" y2="295.60" stroke="#222" stroke-width="0.8" />
<line x1="307.20" y1="292.30" x2="308.50" y2="292.30" stroke="#222" stroke-width="0.8" />
<line x1="306.50" y1="289.00" x2="308.50" y2="289.00" stroke="#222" stroke-width="0.8" />
<line x1="307.20" y1="285.70" x2="308.50" y2="285.70" stroke="#222" stroke-width="0.8" />
<line x1="307.20" y1="282.40" x2="308.50" y2="282.40" stroke="#222" stroke-width="0.8" />
<line x1="307.20" y1="279.10" x2="308.50" y2="279.10" stroke="#222" stroke-width="0.8" />
<line x1="307.20" y1="275.80" x2="308.50" y2="275.80" stroke="#222" stroke-width="0.8" />
<line x1="306.50" y1="272.50" x2="308.50" y2="272.50" stroke="#222" stroke-width="0.8" />
<line x1="307.20" y1="269.20" x2="308.50" y2="269.20" stroke="#222" stroke-width="0.8" />
<line x1="307.20" y1="265.90" x2="308.50" y2="265.90" stroke="#222" stroke-width="0.8" />
<line x1="307.20" y1="262.60" x2="308.50" y2="262.60" stroke="#222" stroke-width="0.8" />
<line x1="307.20" y1="259.30" x2="308.50" y2="259.30" stroke="#222" stroke-width="0.8" />
<line x1="306.50" y1="256.00" x2="308.50" y2="256.00" stroke="#222" stroke-width="0.8" />
<line x1="307.20" y1="252.70" x2="308.50" y2="252.70" stroke="#222" stroke-width="0.8" />
<line x1="307.20" y1="249.40" x2="308.50" y2="249.40" stroke="#222" stroke-width="0.8" />
<line x1="307.20" y1="246.10" x2="308.50" y2="246.10" stroke="#222" stroke-width="0.8" />
<line x1="307.20" y1="242.80" x2="308.50" y2="242.80" stroke="#222" stroke-width="0.8" />
<line x1="306.50" y1="239.50" x2="308.50" y2="239.50" stroke="#222" stroke-width="0.8" />
<text x="303.20" y="322.00" font-size="4.8" text-anchor="middle" fill="#222" transform="rotate(-90 303.20 322.00)" stroke="#222" stroke-width="0.25" >0</text>
<text x="303.20" y="305.50" font-size="4.8" text-anchor="middle" fill="#222" transform="rotate(-90 303.20 305.50)" stroke="#222" stroke-width="0.25" >30</text>
<text x="303.20" y="289.00" font-size="4.8" text-anchor="middle" fill="#222" transform="rotate(-90 303.20 289.00)" stroke="#222" stroke-width="0.25" >60</text>
<text x="303.20" y="272.50" font-size="4.8" text-anchor="middle" fill="#222" transform="rotate(-90 303.20 272.50)" stroke="#222" stroke-width="0.25" >90</text>
<text x="303.20" y="256.00" font-size="4.8" text-anchor="middle" fill="#222" transform="rotate(-90 303.20 256.00)" stroke="#222" stroke-width="0.25" >120</text>
<text x="303.20" y="239.50" font-size="4.8" text-anchor="middle" fill="#222" transform="rotate(-90 303.20 239.50)" stroke="#222" stroke-width="0.25" >150</text>
<text x="297.10" y="281.57" font-size="5.0" text-anchor="middle" textLength="17.5" lengthAdjust="spacingAndGlyphs" fill="#222" transform="rotate(-90 297.10 281.57)" stroke="#222" stroke-width="0.25" >Counts</text>
<line x1="308.50" y1="322.00" x2="308.50" y2="320.00" stroke="#222" stroke-width="0.8" />
<line x1="320.16" y1="322.00" x2="320.16" y2="320.70" stroke="#222" stroke-width="0.8" />
<line x1="326.99" y1="322.00" x2="326.99" y2="320.70" stroke="#222" stroke-width="0.8" />
<line x1="331.83" y1="322.00" x2="331.83" y2="320.70" stroke="#222" stroke-width="0.8" />
<line x1="335.59" y1="322.00" x2="335.59" y2="320.70" stroke="#222" stroke-width="0.8" />
<line x1="338.65" y1="322.00" x2="338.65" y2="320.70" stroke="#222" stroke-width="0.8" />
<line x1="341.25" y1="322.00" x2="341.25" y2="320.70" stroke="#222" stroke-width="0.8" />
<line x1="343.49" y1="322.00" x2="343.49" y2="320.70" stroke="#222" stroke-width="0.8" />
<line x1="345.48" y1="322.00" x2="345.48" y2="320.70" stroke="#222" stroke-width="0.8" />
<line x1="347.25" y1="322.00" x2="347.25" y2="320.00" stroke="#222" stroke-width="0.8" />
<line x1="358.91" y1="322.00" x2="358.91" y2="320.70" stroke="#222" stroke-width="0.8" />
<line x1="365.74" y1="322.00" x2="365.74" y2="320.70" stroke="#222" stroke-width="0.8" />
<line x1="370.58" y1="322.00" x2="370.58" y2="320.70" stroke="#222" stroke-width="0.8" />
<line x1="374.34" y1="322.00" x2="374.34" y2="320.70" stroke="#222" stroke-width="0.8" />
<line x1="377.40" y1="322.00" x2="377.40" y2="320.70" stroke="#222" stroke-width="0.8" />
<line x1="380.00" y1="322.00" x2="380.00" y2="320.70" stroke="#222" stroke-width="0.8" />
<line x1="382.24" y1="322.00" x2="382.24" y2="320.70" stroke="#222" stroke-width="0.8" />
<line x1="384.23" y1="322.00" x2="384.23" y2="320.70" stroke="#222" stroke-width="0.8" />
<line x1="386.00" y1="322.00" x2="386.00" y2="320.00" stroke="#222" stroke-width="0.8" />
<line x1="397.66" y1="322.00" x2="397.66" y2="320.70" stroke="#222" stroke-width="0.8" />
<line x1="404.49" y1="322.00" x2="404.49" y2="320.70" stroke="#222" stroke-width="0.8" />
<line x1="409.33" y1="322.00" x2="409.33" y2="320.70" stroke="#222" stroke-width="0.8" />
<line x1="413.09" y1="322.00" x2="413.09" y2="320.70" stroke="#222" stroke-width="0.8" />
<line x1="416.15" y1="322.00" x2="416.15" y2="320.70" stroke="#222" stroke-width="0.8" />
<line x1="418.75" y1="322.00" x2="418.75" y2="320.70" stroke="#222" stroke-width="0.8" />
<line x1="420.99" y1="322.00" x2="420.99" y2="320.70" stroke="#222" stroke-width="0.8" />
<line x1="422.98" y1="322.00" x2="422.98" y2="320.70" stroke="#222" stroke-width="0.8" />
<line x1="424.75" y1="322.00" x2="424.75" y2="320.00" stroke="#222" stroke-width="0.8" />
<line x1="436.41" y1="322.00" x2="436.41" y2="320.70" stroke="#222" stroke-width="0.8" />
<line x1="443.24" y1="322.00" x2="443.24" y2="320.70" stroke="#222" stroke-width="0.8" />
<line x1="448.08" y1="322.00" x2="448.08" y2="320.70" stroke="#222" stroke-width="0.8" />
<line x1="451.84" y1="322.00" x2="451.84" y2="320.70" stroke="#222" stroke-width="0.8" />
<line x1="454.90" y1="322.00" x2="454.90" y2="320.70" stroke="#222" stroke-width="0.8" />
<line x1="457.50" y1="322.00" x2="457.50" y2="320.70" stroke="#222" stroke-width="0.8" />
<line x1="459.74" y1="322.00" x2="459.74" y2="320.70" stroke="#222" stroke-width="0.8" />
<line x1="461.73" y1="322.00" x2="461.73" y2="320.70" stroke="#222" stroke-width="0.8" />
<text x="304.70" y="331.40" font-size="5.3" fill="#222" stroke="#222" stroke-width="0.12" >10</text>
<text x="310.40" y="328.50" font-size="4.7" fill="#222" stroke="#222" stroke-width="0.1" >0</text>
<text x="343.45" y="331.40" font-size="5.3" fill="#222" stroke="#222" stroke-width="0.12" >10</text>
<text x="349.15" y="328.50" font-size="4.7" fill="#222" stroke="#222" stroke-width="0.1" >1</text>
<text x="382.20" y="331.40" font-size="5.3" fill="#222" stroke="#222" stroke-width="0.12" >10</text>
<text x="387.90" y="328.50" font-size="4.7" fill="#222" stroke="#222" stroke-width="0.1" >2</text>
<text x="420.95" y="331.40" font-size="5.3" fill="#222" stroke="#222" stroke-width="0.12" >10</text>
<text x="426.65" y="328.50" font-size="4.7" fill="#222" stroke="#222" stroke-width="0.1" >3</text>
<text x="459.70" y="331.40" font-size="5.3" fill="#222" stroke="#222" stroke-width="0.12" >10</text>
<text x="465.40" y="328.50" font-size="4.7" fill="#222" stroke="#222" stroke-width="0.1" >4</text>
<rect x="308.50" y="239.50" width="155.00" height="82.50" fill="none" stroke="#4a4a4a" stroke-width="1" />
</svg>
</body></html>
